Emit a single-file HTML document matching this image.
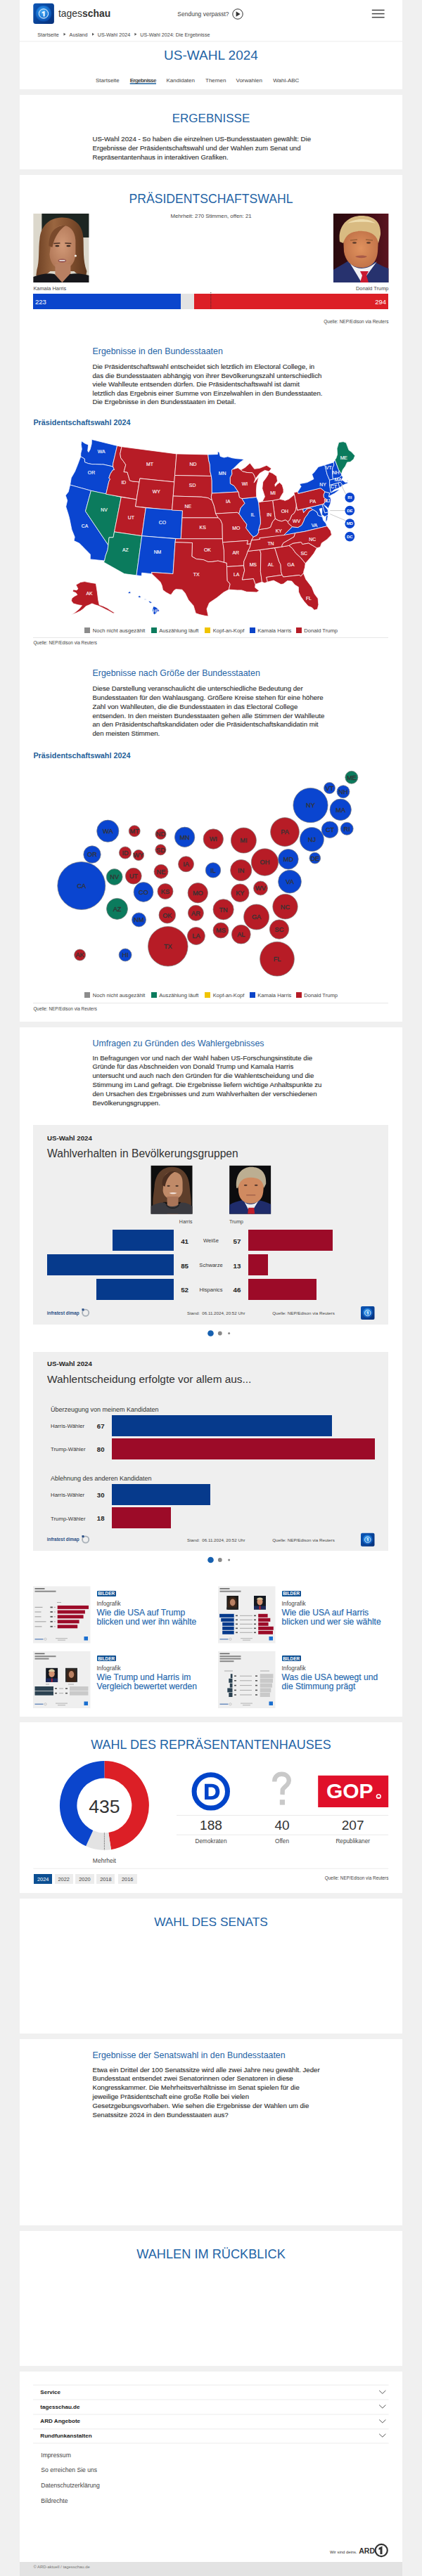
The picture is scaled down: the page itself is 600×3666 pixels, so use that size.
<!DOCTYPE html><html><head><meta charset="utf-8"><style>
html,body{margin:0;padding:0;} body{width:600px;height:3666px;position:relative;overflow:hidden;background:#f0f0f0;font-family:"Liberation Sans", sans-serif;}
.t{position:absolute;white-space:nowrap;} .p{-webkit-text-stroke:0.15px currentColor;} .r{position:absolute;} svg{position:absolute;left:0;top:0;}
</style></head><body>
<div class="r" style="left:27.8px;top:0px;width:544.4px;height:127px;background:#fff;"></div>
<div class="r" style="left:27.8px;top:135px;width:544.4px;height:106px;background:#fff;"></div>
<div class="r" style="left:27.8px;top:249px;width:544.4px;height:1205px;background:#fff;"></div>
<div class="r" style="left:27.8px;top:1462px;width:544.4px;height:981px;background:#fff;"></div>
<div class="r" style="left:27.8px;top:2451px;width:544.4px;height:243px;background:#fff;"></div>
<div class="r" style="left:27.8px;top:2702px;width:544.4px;height:192px;background:#fff;"></div>
<div class="r" style="left:27.8px;top:2902px;width:544.4px;height:265px;background:#fff;"></div>
<div class="r" style="left:27.8px;top:3175px;width:544.4px;height:192px;background:#fff;"></div>
<div class="r" style="left:27.8px;top:3375px;width:544.4px;height:271px;background:#fff;"></div>
<div class="r" style="left:27.8px;top:3646px;width:544.4px;height:20px;background:#e3e3e3;"></div>
<svg width="600" height="130" style="left:0;top:0">
<defs><linearGradient id="lg" x1="0" y1="0" x2="1" y2="1"><stop offset="0" stop-color="#0c57b8"/><stop offset="1" stop-color="#062f78"/></linearGradient>
<radialGradient id="lg2" cx="45%" cy="40%" r="60%"><stop offset="0" stop-color="#4fb0f5"/><stop offset="0.55" stop-color="#1c7ad8"/><stop offset="1" stop-color="#0a4aa8"/></radialGradient></defs>
<rect x="47.3" y="4.8" width="29.6" height="29.3" rx="3.5" fill="url(#lg)"/>
<circle cx="62" cy="19.4" r="11.3" fill="url(#lg2)"/>
<circle cx="62" cy="19.4" r="6.6" fill="none" stroke="#fff" stroke-width="1"/>
<path d="M59.8,17.2 L63.6,15.4 L63.6,23.4 L61.6,23.4 L61.6,18.2 L59.8,18.9Z" fill="#fff"/>
<circle cx="338" cy="20" r="7.2" fill="none" stroke="#333" stroke-width="1"/>
<path d="M335.6,16.2 L341.6,20 L335.6,23.8Z" fill="#333"/>
<rect x="528.8" y="13.7" width="17.8" height="1.5" fill="#444"/>
<rect x="528.8" y="18.8" width="17.8" height="1.5" fill="#444"/>
<rect x="528.8" y="23.9" width="17.8" height="1.5" fill="#444"/>
<rect x="27.4" y="58.5" width="544.8" height="0.8" fill="#e8e8e8"/>
<path d="M90.5,46.8 L93.5,48.8 L90.5,50.8Z M131,46.8 L134,48.8 L131,50.8Z M191.4,46.8 L194.4,48.8 L191.4,50.8Z" fill="#555"/>
<rect x="184.7" y="118.2" width="37.3" height="1.6" fill="#2b6ca3"/>
</svg>
<div class="t" style="left:83px;top:10.89px;font-size:13.9px;line-height:17.38px;color:#333;font-weight:normal;">tages<b>schau</b></div>
<div class="t" style="left:252.3px;top:15.04px;font-size:8.5px;line-height:10.62px;color:#444;font-weight:normal;">Sendung verpasst?</div>
<div class="t" style="left:53.3px;top:44.68px;font-size:7.2px;line-height:9.0px;color:#444;font-weight:normal;">Startseite</div>
<div class="t" style="left:98.6px;top:44.68px;font-size:7.2px;line-height:9.0px;color:#444;font-weight:normal;">Ausland</div>
<div class="t" style="left:138.7px;top:44.68px;font-size:7.2px;line-height:9.0px;color:#444;font-weight:normal;">US-Wahl 2024</div>
<div class="t" style="left:199.3px;top:44.68px;font-size:7.2px;line-height:9.0px;color:#444;font-weight:normal;">US-Wahl 2024: Die Ergebnisse</div>
<div class="t" style="left:0px;width:600px;text-align:center;top:67.36px;font-size:19px;line-height:23.75px;color:#1f64a6;font-weight:normal;">US-WAHL 2024</div>
<div class="t" style="left:136px;top:109.56px;font-size:8px;line-height:10.0px;color:#444;font-weight:normal;">Startseite</div>
<div class="t" style="left:184.7px;top:109.56px;font-size:8px;line-height:10.0px;color:#444;font-weight:bold;letter-spacing:-0.6px;">Ergebnisse</div>
<div class="t" style="left:236.5px;top:109.56px;font-size:8px;line-height:10.0px;color:#444;font-weight:normal;">Kandidaten</div>
<div class="t" style="left:292px;top:109.56px;font-size:8px;line-height:10.0px;color:#444;font-weight:normal;">Themen</div>
<div class="t" style="left:335.5px;top:109.56px;font-size:8px;line-height:10.0px;color:#444;font-weight:normal;">Vorwahlen</div>
<div class="t" style="left:388.3px;top:109.56px;font-size:8px;line-height:10.0px;color:#444;font-weight:normal;">Wahl-ABC</div>
<div class="t" style="left:0px;width:600px;text-align:center;top:157.87px;font-size:17px;line-height:21.25px;color:#1f64a6;font-weight:normal;">ERGEBNISSE</div>
<div class="t p" style="left:131.5px;top:192.11px;font-size:9.65px;line-height:12.8px;color:#333;font-weight:normal;">US-Wahl 2024 - So haben die einzelnen US-Bundesstaaten gewählt: Die<br>Ergebnisse der Präsidentschaftswahl und der Wahlen zum Senat und<br>Repräsentantenhaus in interaktiven Grafiken.</div>
<div class="t" style="left:0px;width:600px;text-align:center;top:271.77px;font-size:17.6px;line-height:22.0px;color:#1f64a6;font-weight:normal;">PRÄSIDENTSCHAFTSWAHL</div>
<div class="t" style="left:0px;width:600px;text-align:center;top:302.89px;font-size:7.8px;line-height:9.75px;color:#444;font-weight:normal;">Mehrheit: 270 Stimmen, offen: 21</div>
<svg width="600" height="460" style="left:0;top:0">
<defs>
<linearGradient id="hh" x1="0" y1="0" x2="1" y2="0"><stop offset="0" stop-color="#6e4124"/><stop offset="0.35" stop-color="#9a6640"/><stop offset="0.7" stop-color="#7d4c2c"/><stop offset="1" stop-color="#5e381f"/></linearGradient>
<radialGradient id="hf" cx="50%" cy="45%" r="60%"><stop offset="0" stop-color="#d29a78"/><stop offset="1" stop-color="#b07656"/></radialGradient>
<radialGradient id="tf" cx="50%" cy="50%" r="60%"><stop offset="0" stop-color="#e0925e"/><stop offset="1" stop-color="#bd6e45"/></radialGradient>
<linearGradient id="tb" x1="0" y1="0" x2="1" y2="0"><stop offset="0" stop-color="#2a0a0e"/><stop offset="0.6" stop-color="#3e0c14"/><stop offset="1" stop-color="#5a1420"/></linearGradient>
</defs>
<g transform="translate(47.4,304)">
<rect width="79" height="98" fill="#dcd8cc"/>
<rect x="12" y="0" width="67" height="34" fill="#1d2622"/>
<path d="M40,5.5 C58,5 70,16 71,34 C72,50 70,66 76,82 L75,88 C68,90 62,86 58,82 L24,82 C18,88 10,91 4,88 L5,80 C9,68 7,50 9,36 C11,16 24,6 40,5.5Z" fill="url(#hh)"/>
<path d="M26,36 C27,22 34,17 42,17 C52,17 59,24 60,38 L60,58 C59,72 51,79 41,79 C31,79 24,71 23,58Z" fill="url(#hf)"/>
<path d="M22,46 C22,26 32,16 46,17 C38,22 30,32 27,48Z" fill="#7a4a2c"/>
<rect x="31" y="72" width="22" height="26" fill="#b88062"/>
<path d="M0,98 L0,90 C10,86 22,84 30,86 L41,98 L52,86 C62,84 72,86 79,88 L79,98Z" fill="#17171b"/>
<path d="M29,42.5 L38,42 M45,42 L54,42.5" stroke="#4a3025" stroke-width="1.3"/>
<ellipse cx="34" cy="46" rx="3" ry="1.3" fill="#3a2a22"/><ellipse cx="50" cy="46" rx="3" ry="1.3" fill="#3a2a22"/>
<ellipse cx="41" cy="67" rx="6" ry="2.8" fill="#9a5a55"/><rect x="37" y="66" width="8" height="1.4" fill="#eee"/>
<circle cx="60" cy="60" r="1.6" fill="#f4f0e8"/>
</g>
<g transform="translate(474,304)">
<rect width="78.4" height="98" fill="url(#tb)"/>
<path d="M0,98 L0,80 C6,76 14,72 20,68 L58,68 C64,72 72,76 78.4,78 L78.4,98Z" fill="#27326e"/>
<path d="M22,68 L40,98 L62,68 C56,74 48,78 40,78 C32,78 26,74 22,68Z" fill="#f2f2f4"/>
<path d="M38,82 L50,82 L47,88 L50,98 L38,98 L41,88Z" fill="#c81a30"/>
<path d="M14,34 C14,26 24,22 40,22 C56,22 64,28 64,36 L63,54 C62,68 54,77 40,77 C27,77 17,68 15,54Z" fill="url(#tf)"/>
<path d="M9,40 C6,18 20,3 40,3 C58,3 68,12 67,30 L64,42 C62,32 56,26 42,25 C28,24 18,28 14,42Z" fill="#d9bb82"/>
<path d="M20,14 C30,6 50,6 60,14 C52,11 30,11 20,14Z" fill="#eedcae"/>
<path d="M24,38 L34,37 M46,37 L56,38" stroke="#9a6038" stroke-width="1.5"/>
<ellipse cx="30" cy="41.5" rx="3" ry="1.2" fill="#5a3a2a"/><ellipse cx="50" cy="41.5" rx="3" ry="1.2" fill="#5a3a2a"/>
<path d="M31,61 C36,59 44,59 48,61 C44,64 36,64 31,61Z" fill="#a85a48"/>
</g>
</svg>
<div class="t" style="left:47.4px;top:405.75px;font-size:7.4px;line-height:9.25px;color:#444;font-weight:normal;">Kamala Harris</div>
<div class="t" style="right:47.60000000000002px;text-align:right;top:405.75px;font-size:7.4px;line-height:9.25px;color:#444;font-weight:normal;">Donald Trump</div>
<div class="r" style="left:47.4px;top:418.3px;width:209.3px;height:21.6px;background:#0b45cc;"></div>
<div class="r" style="left:256.7px;top:418.3px;width:19.5px;height:21.6px;background:#e3e3e3;"></div>
<div class="r" style="left:276.2px;top:418.3px;width:276.2px;height:21.6px;background:#dc1f26;"></div>
<svg width="600" height="460" style="left:0;top:0"><line x1="299.8" y1="416" x2="299.8" y2="440" stroke="#3a2a2a" stroke-width="1" stroke-dasharray="1,1"/></svg>
<div class="t" style="left:50px;top:423.88px;font-size:9.5px;line-height:11.88px;color:#fff;font-weight:normal;">223</div>
<div class="t" style="right:51px;text-align:right;top:423.88px;font-size:9.5px;line-height:11.88px;color:#fff;font-weight:normal;">294</div>
<div class="t" style="right:47.60000000000002px;text-align:right;top:454.35px;font-size:6.5px;line-height:8.12px;color:#444;font-weight:normal;">Quelle: NEP/Edison via Reuters</div>
<div class="t" style="left:131.5px;top:493.08px;font-size:12.4px;line-height:15.5px;color:#1f64a6;font-weight:normal;">Ergebnisse in den Bundesstaaten</div>
<div class="t p" style="left:131.5px;top:516.26px;font-size:9.65px;line-height:12.5px;color:#333;font-weight:normal;">Die Präsidentschaftswahl entscheidet sich letztlich im Electoral College, in<br>das die Bundesstaaten abhängig von ihrer Bevölkerungszahl unterschiedlich<br>viele Wahlleute entsenden dürfen. Die Präsidentschaftswahl ist damit<br>letztlich das Ergebnis einer Summe von Einzelwahlen in den Bundesstaaten.<br>Die Ergebnisse in den Bundesstaaten im Detail.</div>
<div class="t" style="left:47.4px;top:594.53px;font-size:10.8px;line-height:13.5px;color:#1f5f99;font-weight:bold;">Präsidentschaftswahl 2024</div>
<svg width="600" height="3666" style="left:0;top:0"><path d="M116.0,627.7L120.7,631.0L125.6,633.0L124.7,641.6L125.9,643.5L128.2,639.5L130.2,631.7L130.4,625.4L166.7,634.4L160.7,659.7L160.6,664.0L146.7,660.9L144.4,661.0L135.2,660.6L130.9,660.6L125.4,659.6L120.5,657.7L120.2,652.9L114.7,649.8L114.8,645.0L116.3,639.2L115.3,632.6Z" fill="#0a45d0" stroke="#fff" stroke-width="0.75" stroke-linejoin="round"/><path d="M99.6,690.1L129.4,698.3L150.7,703.2L154.8,685.4L156.6,681.7L154.8,680.3L156.8,674.5L160.3,669.0L162.5,668.5L160.6,664.0L146.7,660.9L144.4,661.0L135.2,660.6L130.9,660.6L125.4,659.6L120.5,657.7L120.2,652.9L114.7,649.8L110.3,661.6L106.5,671.0L101.3,680.0Z" fill="#0a45d0" stroke="#fff" stroke-width="0.75" stroke-linejoin="round"/><path d="M99.6,690.1L129.4,698.3L121.5,727.5L153.9,775.7L153.0,782.7L149.9,791.3L148.6,798.0L128.3,795.9L128.4,789.0L120.8,781.2L117.4,777.8L112.7,773.1L105.1,769.6L106.2,764.2L102.0,753.8L100.6,747.1L98.6,737.2L97.0,731.5L93.7,721.1L95.7,712.2L93.2,705.1L97.2,700.0Z" fill="#0a45d0" stroke="#fff" stroke-width="0.75" stroke-linejoin="round"/><path d="M129.4,698.3L172.3,707.4L161.0,764.8L155.1,764.9L153.9,775.7L121.5,727.5Z" fill="#0b7b5d" stroke="#fff" stroke-width="0.75" stroke-linejoin="round"/><path d="M166.6,634.4L173.0,635.7L170.8,645.7L171.7,651.6L175.6,656.7L178.8,661.4L176.1,671.6L181.0,672.0L184.4,683.8L188.5,685.0L198.1,685.9L194.0,710.8L150.7,703.2L154.8,685.4L156.6,681.7L154.8,680.3L156.8,674.5L160.3,669.0L162.5,668.5L160.6,664.0L160.7,659.7Z" fill="#b71c26" stroke="#fff" stroke-width="0.75" stroke-linejoin="round"/><path d="M173.0,635.7L251.0,645.9L247.8,685.9L198.9,680.9L198.1,685.9L188.5,685.0L184.4,683.8L181.0,672.0L176.1,671.6L178.8,661.4L175.6,656.7L171.7,651.6L170.8,645.7Z" fill="#b71c26" stroke="#fff" stroke-width="0.75" stroke-linejoin="round"/><path d="M198.9,680.9L247.8,685.9L244.6,726.1L192.4,720.8Z" fill="#b71c26" stroke="#fff" stroke-width="0.75" stroke-linejoin="round"/><path d="M172.3,707.4L194.0,710.8L192.4,720.8L207.3,722.7L201.7,762.7L162.5,756.9Z" fill="#b71c26" stroke="#fff" stroke-width="0.75" stroke-linejoin="round"/><path d="M207.3,722.7L259.5,726.8L257.2,767.0L201.7,762.7Z" fill="#0a45d0" stroke="#fff" stroke-width="0.75" stroke-linejoin="round"/><path d="M162.5,756.9L201.7,762.7L194.0,818.8L176.8,816.6L147.4,800.0L148.6,798.0L149.9,791.3L153.0,782.7L153.9,775.7L155.1,764.9L161.0,764.8Z" fill="#0b7b5d" stroke="#fff" stroke-width="0.75" stroke-linejoin="round"/><path d="M201.7,762.7L249.7,766.7L249.0,771.7L246.0,816.6L215.5,814.4L216.3,816.7L201.7,815.2L201.2,819.7L194.0,818.8Z" fill="#0a45d0" stroke="#fff" stroke-width="0.75" stroke-linejoin="round"/><path d="M251.0,645.9L295.8,646.9L296.6,654.9L298.3,660.9L298.7,670.9L300.4,677.5L248.5,676.5Z" fill="#b71c26" stroke="#fff" stroke-width="0.75" stroke-linejoin="round"/><path d="M248.5,676.5L300.4,677.5L301.2,683.9L301.3,702.0L300.3,707.0L301.4,712.1L295.9,708.6L286.5,707.2L246.2,706.0Z" fill="#b71c26" stroke="#fff" stroke-width="0.75" stroke-linejoin="round"/><path d="M246.2,706.0L286.5,707.2L295.9,708.6L301.4,712.1L304.1,719.0L305.6,725.0L306.7,731.0L310.3,736.9L259.0,736.9L259.5,726.8L244.6,726.1Z" fill="#b71c26" stroke="#fff" stroke-width="0.75" stroke-linejoin="round"/><path d="M259.0,736.9L310.3,736.9L313.5,739.8L316.0,745.8L316.4,766.8L257.2,767.0Z" fill="#b71c26" stroke="#fff" stroke-width="0.75" stroke-linejoin="round"/><path d="M249.7,766.7L316.4,766.8L318.4,782.8L318.6,800.4L310.0,798.1L301.7,799.4L295.8,799.5L289.2,796.6L279.3,795.6L272.8,791.9L273.4,772.5L249.0,771.7Z" fill="#b71c26" stroke="#fff" stroke-width="0.75" stroke-linejoin="round"/><path d="M249.0,771.7L273.4,772.5L272.8,791.9L279.3,795.6L289.2,796.6L295.8,799.5L301.7,799.4L310.0,798.1L318.6,800.4L322.3,801.1L322.5,806.5L323.2,826.4L327.2,831.1L325.4,839.1L317.9,843.0L308.3,850.7L297.6,857.9L294.0,866.7L296.2,877.0L292.1,876.5L283.8,874.6L278.3,872.7L275.0,861.9L268.0,853.9L263.1,844.0L258.9,839.2L250.1,838.6L247.3,840.4L243.4,846.2L241.6,846.1L235.7,842.8L231.5,839.5L230.3,833.5L228.1,828.4L220.2,820.8L216.2,817.0L215.5,814.4L246.0,816.6Z" fill="#b71c26" stroke="#fff" stroke-width="0.75" stroke-linejoin="round"/><path d="M295.8,646.9L309.4,646.5L309.4,642.7L311.7,643.4L313.2,649.4L318.5,651.1L323.8,649.8L330.5,651.8L337.3,652.8L344.0,653.2L346.8,653.9L340.4,658.5L334.7,664.0L330.8,667.9L329.5,668.9L329.9,674.7L327.3,679.7L327.4,688.2L332.9,691.4L338.8,700.0L301.3,702.0L301.2,683.9L300.4,677.5L298.7,670.9L298.3,660.9L296.6,654.9Z" fill="#0a45d0" stroke="#fff" stroke-width="0.75" stroke-linejoin="round"/><path d="M301.3,702.0L339.0,699.9L340.5,707.9L344.0,709.6L348.1,716.3L342.2,722.9L339.8,731.1L337.2,729.3L306.7,731.0L305.6,725.0L304.1,719.0L301.4,712.1L300.3,707.0Z" fill="#b71c26" stroke="#fff" stroke-width="0.75" stroke-linejoin="round"/><path d="M306.7,731.0L337.2,729.3L339.8,731.1L345.8,739.7L350.9,746.3L349.8,751.4L356.9,760.8L360.4,764.0L357.6,768.8L356.4,773.9L351.0,774.5L352.4,769.3L316.6,771.8L316.4,766.8L316.0,745.8L313.5,739.8L310.3,736.9Z" fill="#b71c26" stroke="#fff" stroke-width="0.75" stroke-linejoin="round"/><path d="M316.6,771.8L352.4,769.3L351.0,774.5L356.4,773.9L355.2,779.1L352.4,784.4L350.4,790.6L346.8,798.9L346.6,804.9L322.5,806.5L322.3,801.1L318.6,800.4L318.4,782.8Z" fill="#b71c26" stroke="#fff" stroke-width="0.75" stroke-linejoin="round"/><path d="M322.5,806.5L346.6,804.9L347.7,811.8L344.3,825.0L360.4,823.5L363.1,831.4L362.7,836.2L368.4,840.6L365.0,842.9L357.9,842.6L350.7,842.3L343.5,839.9L337.3,839.9L325.4,839.1L327.2,831.1L323.2,826.4Z" fill="#b71c26" stroke="#fff" stroke-width="0.75" stroke-linejoin="round"/><path d="M344.3,825.0L347.7,811.8L346.6,804.9L346.8,798.9L350.4,790.6L352.4,784.4L369.5,782.5L370.9,787.4L370.4,813.5L372.5,828.2L363.1,831.4L360.4,823.5Z" fill="#b71c26" stroke="#fff" stroke-width="0.75" stroke-linejoin="round"/><path d="M369.5,782.5L390.7,779.7L396.7,799.0L399.0,803.6L399.6,813.6L401.1,818.3L378.8,821.5L380.4,828.2L376.2,829.7L372.5,828.2L370.4,813.5L370.9,787.4Z" fill="#b71c26" stroke="#fff" stroke-width="0.75" stroke-linejoin="round"/><path d="M390.7,779.7L411.0,776.4L415.9,780.6L420.3,786.9L427.5,793.6L434.2,801.8L433.5,807.5L431.9,812.9L431.5,815.8L427.5,820.2L425.8,818.4L402.7,821.1L401.1,818.3L399.6,813.6L399.0,803.6L396.7,799.0Z" fill="#b71c26" stroke="#fff" stroke-width="0.75" stroke-linejoin="round"/><path d="M378.8,821.5L401.1,818.3L402.7,821.1L425.8,818.4L427.5,820.2L431.5,815.8L434.9,824.4L443.4,835.7L447.0,844.9L452.1,851.8L452.9,860.6L451.3,866.9L446.9,868.3L443.3,864.6L438.2,862.6L432.3,855.8L427.4,848.8L424.5,842.3L424.3,835.4L419.2,832.3L414.8,827.1L408.5,826.6L402.9,831.0L399.4,831.6L389.0,826.1L380.4,828.2Z" fill="#b71c26" stroke="#fff" stroke-width="0.75" stroke-linejoin="round"/><path d="M352.4,784.4L355.2,779.1L356.4,773.9L357.6,768.8L369.6,767.4L368.8,765.7L419.8,758.5L418.0,764.0L410.5,768.4L402.9,772.7L401.0,776.1L401.1,778.1L369.5,782.5Z" fill="#b71c26" stroke="#fff" stroke-width="0.75" stroke-linejoin="round"/><path d="M357.6,768.8L369.6,767.4L368.8,765.7L403.6,761.5L415.7,749.7L409.7,744.4L409.3,742.2L405.8,739.8L400.5,741.7L395.6,740.5L391.2,738.1L387.3,742.8L384.4,750.3L379.8,752.0L375.9,752.5L371.2,753.1L367.4,754.6L367.7,757.6L365.0,761.9L360.4,764.0Z" fill="#b71c26" stroke="#fff" stroke-width="0.75" stroke-linejoin="round"/><path d="M403.6,761.5L419.8,758.5L432.9,756.4L465.0,748.7L463.2,744.6L459.6,740.3L458.4,735.5L452.3,733.4L450.9,729.1L446.6,726.0L444.6,725.3L439.8,727.7L436.9,732.4L433.1,737.4L431.6,741.8L428.7,747.5L423.7,750.6L415.7,749.7Z" fill="#0a45d0" stroke="#fff" stroke-width="0.75" stroke-linejoin="round"/><path d="M466.4,733.1L463.4,734.2L462.9,743.6L465.3,739.9Z" fill="#0a45d0" stroke="#fff" stroke-width="0.75" stroke-linejoin="round"/><path d="M421.0,717.0L422.8,726.1L430.6,724.4L431.6,729.5L434.7,726.2L435.9,724.4L439.2,723.2L441.9,723.0L444.6,725.3L439.8,727.7L436.9,732.4L433.1,737.4L431.6,741.8L428.7,747.5L423.7,750.6L415.7,749.7L409.7,744.4L409.3,742.2L412.1,739.6L414.8,733.0L418.2,730.3L420.5,725.7L421.1,720.5Z" fill="#b71c26" stroke="#fff" stroke-width="0.75" stroke-linejoin="round"/><path d="M430.6,724.4L458.1,717.7L461.9,729.9L466.8,728.6L466.4,733.1L461.6,735.2L457.7,732.5L457.8,723.2L454.1,724.2L456.7,731.8L458.4,735.5L452.3,733.4L450.9,729.1L446.6,726.0L444.6,725.3L441.9,723.0L439.2,723.2L435.9,724.4L434.7,726.2L431.6,729.5Z" fill="#0a45d0" stroke="#fff" stroke-width="0.75" stroke-linejoin="round"/><path d="M458.1,717.7L460.8,716.2L460.2,718.4L465.9,725.2L466.8,728.6L461.9,729.9Z" fill="#0a45d0" stroke="#fff" stroke-width="0.75" stroke-linejoin="round"/><path d="M462.0,699.8L468.7,701.6L467.5,707.1L469.6,707.5L470.6,711.4L469.7,716.9L466.7,723.6L464.6,721.4L460.2,718.4L460.8,716.2L465.1,711.4L460.3,708.0L460.0,704.0Z" fill="#0a45d0" stroke="#fff" stroke-width="0.75" stroke-linejoin="round"/><path d="M417.9,700.9L423.4,699.8L423.9,702.4L455.7,694.7L458.0,696.2L462.0,699.8L460.0,704.0L460.3,708.0L465.1,711.4L460.8,716.2L458.1,717.7L422.8,726.1Z" fill="#b71c26" stroke="#fff" stroke-width="0.75" stroke-linejoin="round"/><path d="M423.9,702.4L423.4,699.8L428.2,692.2L426.8,690.5L426.0,688.6L436.7,686.6L446.0,681.7L443.6,675.1L446.6,672.2L452.6,664.4L461.8,661.8L465.2,675.4L468.6,683.3L468.7,690.5L470.4,701.0L480.0,697.1L483.0,696.7L475.9,702.0L469.0,705.6L467.5,707.1L468.7,701.6L462.0,699.8L458.0,696.2L455.7,694.7Z" fill="#0a45d0" stroke="#fff" stroke-width="0.75" stroke-linejoin="round"/><path d="M461.8,661.8L474.2,657.9L474.8,662.0L472.9,665.7L472.6,672.1L472.9,677.3L473.5,682.0L468.6,683.3L465.2,675.4Z" fill="#0a45d0" stroke="#fff" stroke-width="0.75" stroke-linejoin="round"/><path d="M474.2,657.9L476.2,654.2L481.4,668.3L484.1,672.7L485.4,674.4L485.4,676.8L482.4,679.6L473.5,682.0L472.9,677.3L472.6,672.1L472.9,665.7L474.8,662.0Z" fill="#0a45d0" stroke="#fff" stroke-width="0.75" stroke-linejoin="round"/><path d="M476.2,654.2L477.7,652.4L479.6,646.8L479.1,638.5L481.7,629.6L488.0,628.6L492.1,630.1L496.0,640.6L499.7,643.0L504.7,648.6L502.7,653.6L498.0,657.4L493.6,657.9L491.0,663.5L487.3,668.5L485.4,674.4L484.1,672.7L481.4,668.3Z" fill="#0b7b5d" stroke="#fff" stroke-width="0.75" stroke-linejoin="round"/><path d="M468.6,683.3L473.5,682.0L482.4,679.6L485.4,676.8L487.6,678.9L485.7,682.7L489.1,684.8L490.7,686.4L494.6,686.1L493.1,682.9L494.7,684.0L494.3,687.8L490.8,689.0L487.2,690.7L483.9,686.3L480.9,687.2L468.7,690.5Z" fill="#0a45d0" stroke="#fff" stroke-width="0.75" stroke-linejoin="round"/><path d="M480.9,687.2L483.9,686.3L487.2,690.7L482.6,694.0Z" fill="#0a45d0" stroke="#fff" stroke-width="0.75" stroke-linejoin="round"/><path d="M468.7,690.5L480.9,687.2L482.6,694.0L475.2,697.0L470.4,701.0Z" fill="#0a45d0" stroke="#fff" stroke-width="0.75" stroke-linejoin="round"/><path d="M401.1,778.1L401.0,776.1L402.9,772.7L410.5,768.4L418.0,764.0L419.8,758.5L432.9,756.4L465.0,748.7L470.0,755.2L471.5,761.0L464.7,767.9L457.4,772.8L455.3,778.4L450.5,780.0L438.8,773.0L429.9,774.6L428.6,772.1L427.7,771.7L416.3,773.4L411.0,776.4Z" fill="#b71c26" stroke="#fff" stroke-width="0.75" stroke-linejoin="round"/><path d="M411.0,776.4L416.3,773.4L427.7,771.7L428.6,772.1L429.9,774.6L438.8,773.0L450.5,780.0L446.1,787.7L441.3,793.8L434.2,801.8L427.5,793.6L420.3,786.9L415.9,780.6Z" fill="#b71c26" stroke="#fff" stroke-width="0.75" stroke-linejoin="round"/><path d="M418.4,703.8L410.7,710.3L405.0,712.4L403.4,711.6L397.5,710.3L387.6,712.3L391.2,738.1L395.6,740.5L400.5,741.7L405.8,739.8L409.3,742.2L412.1,739.6L414.8,733.0L418.2,730.3L420.5,725.7L421.1,720.5L421.0,717.0Z" fill="#b71c26" stroke="#fff" stroke-width="0.75" stroke-linejoin="round"/><path d="M387.6,712.3L372.9,713.8L367.5,715.1L370.2,738.6L370.3,745.1L367.4,754.6L371.2,753.1L375.9,752.5L379.8,752.0L384.4,750.3L387.3,742.8L391.2,738.1Z" fill="#b71c26" stroke="#fff" stroke-width="0.75" stroke-linejoin="round"/><path d="M344.0,709.6L364.7,707.4L366.7,712.2L367.5,715.1L370.2,738.6L370.3,745.1L367.4,754.6L367.7,757.6L365.0,761.9L360.4,764.0L356.9,760.8L349.8,751.4L350.9,746.3L345.8,739.7L339.8,731.1L342.2,722.9L348.1,716.3Z" fill="#0a45d0" stroke="#fff" stroke-width="0.75" stroke-linejoin="round"/><path d="M344.0,709.6L340.5,707.9L339.0,699.9L338.8,700.0L332.9,691.4L327.4,688.2L327.3,679.7L329.9,674.7L329.5,668.9L330.8,667.9L338.2,665.8L342.5,668.7L344.8,670.7L351.9,672.5L358.8,672.7L360.4,674.5L362.2,678.3L363.3,681.2L361.1,687.1L364.2,683.1L367.9,678.6L365.0,690.1L364.4,698.3L364.7,707.4Z" fill="#b71c26" stroke="#fff" stroke-width="0.75" stroke-linejoin="round"/><path d="M387.6,712.3L397.5,710.3L399.5,706.2L403.0,700.5L403.0,696.4L401.3,690.6L397.7,686.6L394.4,688.8L391.3,692.3L390.9,689.4L394.5,684.7L393.4,677.7L387.7,673.6L382.5,671.4L381.0,675.7L378.1,680.2L373.8,685.9L372.8,695.2L376.5,706.8L372.9,713.8Z" fill="#b71c26" stroke="#fff" stroke-width="0.75" stroke-linejoin="round"/><path d="M342.5,668.7L348.4,665.3L355.4,659.0L361.7,667.3L369.2,666.3L379.1,662.3L382.9,664.8L386.0,666.8L382.4,670.9L376.6,669.3L369.4,673.4L363.3,681.2L362.2,678.3L360.4,674.5L358.8,672.7L351.9,672.5L344.8,670.7Z" fill="#b71c26" stroke="#fff" stroke-width="0.75" stroke-linejoin="round"/><path d="M108.0,832.3L114.6,828.5L120.3,827.6L127.9,829.1L136.4,830.4L138.3,842.7L139.7,854.1L141.2,860.8L146.9,862.7L152.6,865.5L158.2,869.3L163.0,872.1L161.1,873.1L155.4,869.7L150.7,867.4L145.0,864.5L139.7,862.1L135.5,860.8L130.8,858.9L127.0,860.8L122.2,862.7L118.4,866.4L114.6,869.3L109.0,872.1L101.4,875.0L107.1,871.2L112.7,866.4L116.5,861.7L110.9,860.8L104.2,858.9L101.4,855.1L102.3,851.3L106.1,848.4L109.9,846.5L108.0,843.7L103.3,841.8L104.2,839.0L109.0,839.9L110.9,838.0Z" fill="#b71c26" stroke="#fff" stroke-width="0.75" stroke-linejoin="round"/><path d="M218.4,862.7L221.9,864.2L224.8,867.0L226.9,869.6L224.1,870.6L221.9,872.7L219.4,874.8L217.7,872.3L216.5,868.4L217.4,864.9ZM211.3,854.9L214.1,856.1L216.3,857.5L214.1,858.5L211.7,857.0ZM196.3,848.5L198.5,847.8L200.6,849.7L198.5,850.6L196.6,849.9ZM182.1,843.3L184.2,841.8L186.1,842.8L185.0,844.7L182.8,844.4ZM205.2,852.5L208.0,852.8L207.7,853.5L205.3,853.3Z" fill="#0a45d0" stroke="#fff" stroke-width="0.75" stroke-linejoin="round"/><path d="M484.7,689.3 L491.5,703" stroke="#bbb" stroke-width="0.8" fill="none"/><path d="M469.3,726.6 L490.5,726.6" stroke="#bbb" stroke-width="0.8" fill="none"/><path d="M469.3,731.5 L491,740.7" stroke="#bbb" stroke-width="0.8" fill="none"/><circle cx="497.3" cy="708" r="6.9" fill="#0a45d0"/><text x="497.3" y="710.2" font-size="6" fill="#fff" font-weight="bold" text-anchor="middle" font-family="Liberation Sans">RI</text><circle cx="497.3" cy="726.6" r="6.9" fill="#0a45d0"/><text x="497.3" y="728.8000000000001" font-size="6" fill="#fff" font-weight="bold" text-anchor="middle" font-family="Liberation Sans">DE</text><circle cx="497.3" cy="745.2" r="6.9" fill="#0a45d0"/><text x="497.3" y="747.4000000000001" font-size="6" fill="#fff" font-weight="bold" text-anchor="middle" font-family="Liberation Sans">MD</text><circle cx="497.3" cy="763.6" r="6.9" fill="#0a45d0"/><text x="497.3" y="765.8000000000001" font-size="6" fill="#fff" font-weight="bold" text-anchor="middle" font-family="Liberation Sans">DC</text><text x="144.2" y="645.3" font-size="6.9" fill="#fff" stroke="#fff" stroke-width="0.12" text-anchor="middle" font-family="Liberation Sans">WA</text><text x="130" y="674.7" font-size="6.9" fill="#fff" stroke="#fff" stroke-width="0.12" text-anchor="middle" font-family="Liberation Sans">OR</text><text x="120.5" y="750.5" font-size="6.9" fill="#fff" stroke="#fff" stroke-width="0.12" text-anchor="middle" font-family="Liberation Sans">CA</text><text x="148" y="727.8" font-size="6.9" fill="#fff" stroke="#fff" stroke-width="0.12" text-anchor="middle" font-family="Liberation Sans">NV</text><text x="175.9" y="688.9" font-size="6.9" fill="#fff" stroke="#fff" stroke-width="0.12" text-anchor="middle" font-family="Liberation Sans">ID</text><text x="212.9" y="662.9" font-size="6.9" fill="#fff" stroke="#fff" stroke-width="0.12" text-anchor="middle" font-family="Liberation Sans">MT</text><text x="222.4" y="702.2" font-size="6.9" fill="#fff" stroke="#fff" stroke-width="0.12" text-anchor="middle" font-family="Liberation Sans">WY</text><text x="186.3" y="739.1" font-size="6.9" fill="#fff" stroke="#fff" stroke-width="0.12" text-anchor="middle" font-family="Liberation Sans">UT</text><text x="231" y="745.9" font-size="6.9" fill="#fff" stroke="#fff" stroke-width="0.12" text-anchor="middle" font-family="Liberation Sans">CO</text><text x="178.3" y="785.2" font-size="6.9" fill="#fff" stroke="#fff" stroke-width="0.12" text-anchor="middle" font-family="Liberation Sans">AZ</text><text x="224" y="787.6" font-size="6.9" fill="#fff" stroke="#fff" stroke-width="0.12" text-anchor="middle" font-family="Liberation Sans">NM</text><text x="274.5" y="663.4" font-size="6.9" fill="#fff" stroke="#fff" stroke-width="0.12" text-anchor="middle" font-family="Liberation Sans">ND</text><text x="273.6" y="693.2" font-size="6.9" fill="#fff" stroke="#fff" stroke-width="0.12" text-anchor="middle" font-family="Liberation Sans">SD</text><text x="267.4" y="722.6" font-size="6.9" fill="#fff" stroke="#fff" stroke-width="0.12" text-anchor="middle" font-family="Liberation Sans">NE</text><text x="288.2" y="752.6" font-size="6.9" fill="#fff" stroke="#fff" stroke-width="0.12" text-anchor="middle" font-family="Liberation Sans">KS</text><text x="294.9" y="785.2" font-size="6.9" fill="#fff" stroke="#fff" stroke-width="0.12" text-anchor="middle" font-family="Liberation Sans">OK</text><text x="279.2" y="819.8" font-size="6.9" fill="#fff" stroke="#fff" stroke-width="0.12" text-anchor="middle" font-family="Liberation Sans">TX</text><text x="316.2" y="676.1" font-size="6.9" fill="#fff" stroke="#fff" stroke-width="0.12" text-anchor="middle" font-family="Liberation Sans">MN</text><text x="324.3" y="715.5" font-size="6.9" fill="#fff" stroke="#fff" stroke-width="0.12" text-anchor="middle" font-family="Liberation Sans">IA</text><text x="335.7" y="753.9" font-size="6.9" fill="#fff" stroke="#fff" stroke-width="0.12" text-anchor="middle" font-family="Liberation Sans">MO</text><text x="335.2" y="789.0" font-size="6.9" fill="#fff" stroke="#fff" stroke-width="0.12" text-anchor="middle" font-family="Liberation Sans">AR</text><text x="336.1" y="819.8" font-size="6.9" fill="#fff" stroke="#fff" stroke-width="0.12" text-anchor="middle" font-family="Liberation Sans">LA</text><text x="348" y="690.6" font-size="6.9" fill="#fff" stroke="#fff" stroke-width="0.12" text-anchor="middle" font-family="Liberation Sans">WI</text><text x="359.4" y="734.9" font-size="6.9" fill="#fff" stroke="#fff" stroke-width="0.12" text-anchor="middle" font-family="Liberation Sans">IL</text><text x="388.2" y="704.4" font-size="6.9" fill="#fff" stroke="#fff" stroke-width="0.12" text-anchor="middle" font-family="Liberation Sans">MI</text><text x="382.6" y="734.9" font-size="6.9" fill="#fff" stroke="#fff" stroke-width="0.12" text-anchor="middle" font-family="Liberation Sans">IN</text><text x="404.8" y="729.9" font-size="6.9" fill="#fff" stroke="#fff" stroke-width="0.12" text-anchor="middle" font-family="Liberation Sans">OH</text><text x="396.3" y="757.7" font-size="6.9" fill="#fff" stroke="#fff" stroke-width="0.12" text-anchor="middle" font-family="Liberation Sans">KY</text><text x="385" y="775.8" font-size="6.9" fill="#fff" stroke="#fff" stroke-width="0.12" text-anchor="middle" font-family="Liberation Sans">TN</text><text x="359.8" y="805.6" font-size="6.9" fill="#fff" stroke="#fff" stroke-width="0.12" text-anchor="middle" font-family="Liberation Sans">MS</text><text x="385" y="805.6" font-size="6.9" fill="#fff" stroke="#fff" stroke-width="0.12" text-anchor="middle" font-family="Liberation Sans">AL</text><text x="413.5" y="805.7" font-size="6.9" fill="#fff" stroke="#fff" stroke-width="0.12" text-anchor="middle" font-family="Liberation Sans">GA</text><text x="438.9" y="854.3" font-size="6.9" fill="#fff" stroke="#fff" stroke-width="0.12" text-anchor="middle" font-family="Liberation Sans">FL</text><text x="432.3" y="789.5" font-size="6.9" fill="#fff" stroke="#fff" stroke-width="0.12" text-anchor="middle" font-family="Liberation Sans">SC</text><text x="444.2" y="769.5" font-size="6.9" fill="#fff" stroke="#fff" stroke-width="0.12" text-anchor="middle" font-family="Liberation Sans">NC</text><text x="447" y="749.6" font-size="6.9" fill="#fff" stroke="#fff" stroke-width="0.12" text-anchor="middle" font-family="Liberation Sans">VA</text><text x="421.6" y="743.8" font-size="6.9" fill="#fff" stroke="#fff" stroke-width="0.12" text-anchor="middle" font-family="Liberation Sans">WV</text><text x="444.7" y="715.9" font-size="6.9" fill="#fff" stroke="#fff" stroke-width="0.12" text-anchor="middle" font-family="Liberation Sans">PA</text><text x="459" y="692.1" font-size="6.9" fill="#fff" stroke="#fff" stroke-width="0.12" text-anchor="middle" font-family="Liberation Sans">NY</text><text x="467.4" y="668.1" font-size="6.9" fill="#fff" stroke="#fff" stroke-width="0.12" text-anchor="middle" font-family="Liberation Sans">VT</text><text x="477.4" y="675.1" font-size="6.9" fill="#fff" stroke="#fff" stroke-width="0.12" text-anchor="middle" font-family="Liberation Sans">NH</text><text x="480.7" y="685.1" font-size="6.9" fill="#fff" stroke="#fff" stroke-width="0.12" text-anchor="middle" font-family="Liberation Sans">MA</text><text x="474.5" y="694.6" font-size="6.9" fill="#fff" stroke="#fff" stroke-width="0.12" text-anchor="middle" font-family="Liberation Sans">CT</text><text x="465" y="715.4" font-size="6.9" fill="#fff" stroke="#fff" stroke-width="0.12" text-anchor="middle" font-family="Liberation Sans">NJ</text><text x="488.8" y="653.8" font-size="6.9" fill="#fff" stroke="#fff" stroke-width="0.12" text-anchor="middle" font-family="Liberation Sans">ME</text><text x="127" y="847.4" font-size="6.9" fill="#fff" stroke="#fff" stroke-width="0.12" text-anchor="middle" font-family="Liberation Sans">AK</text><text x="220.8" y="872.2" font-size="6.9" fill="#fff" stroke="#fff" stroke-width="0.12" text-anchor="middle" font-family="Liberation Sans">HI</text></svg>
<div class="r" style="left:120.4px;top:893.3px;width:7.5px;height:7.5px;background:#8c8c8c;"></div>
<div class="t" style="left:131.70000000000002px;top:892.62px;font-size:7.6px;line-height:9.5px;color:#444;font-weight:normal;">Noch nicht ausgezählt</div>
<div class="r" style="left:215px;top:893.3px;width:7.5px;height:7.5px;background:#0b7b5d;"></div>
<div class="t" style="left:226.3px;top:892.62px;font-size:7.6px;line-height:9.5px;color:#444;font-weight:normal;">Auszählung läuft</div>
<div class="r" style="left:291.4px;top:893.3px;width:7.5px;height:7.5px;background:#f0c400;"></div>
<div class="t" style="left:302.7px;top:892.62px;font-size:7.6px;line-height:9.5px;color:#444;font-weight:normal;">Kopf-an-Kopf</div>
<div class="r" style="left:355px;top:893.3px;width:7.5px;height:7.5px;background:#0b44c8;"></div>
<div class="t" style="left:366.3px;top:892.62px;font-size:7.6px;line-height:9.5px;color:#444;font-weight:normal;">Kamala Harris</div>
<div class="r" style="left:421px;top:893.3px;width:7.5px;height:7.5px;background:#b51c27;"></div>
<div class="t" style="left:432.3px;top:892.62px;font-size:7.6px;line-height:9.5px;color:#444;font-weight:normal;">Donald Trump</div>
<div class="r" style="left:47.4px;top:906.5px;width:505px;height:0.7px;background:#e6e6e6;"></div>
<div class="t" style="left:47.4px;top:911.41px;font-size:6.4px;line-height:8.0px;color:#444;font-weight:normal;">Quelle: NEP/Edison via Reuters</div>
<div class="t" style="left:131.5px;top:951.08px;font-size:12.4px;line-height:15.5px;color:#1f64a6;font-weight:normal;">Ergebnisse nach Größe der Bundesstaaten</div>
<div class="t p" style="left:131.5px;top:974.21px;font-size:9.65px;line-height:12.8px;color:#333;font-weight:normal;">Diese Darstellung veranschaulicht die unterschiedliche Bedeutung der<br>Bundesstaaten für den Wahlausgang. Größere Kreise stehen für eine höhere<br>Zahl von Wahlleuten, die die Bundesstaaten in das Electoral College<br>entsenden. In den meisten Bundesstaaten gehen alle Stimmen der Wahlleute<br>an den Präsidentschaftskandidaten oder die Präsidentschaftskandidatin mit<br>den meisten Stimmen.</div>
<div class="t" style="left:47.4px;top:1068.53px;font-size:10.8px;line-height:13.5px;color:#1f5f99;font-weight:bold;">Präsidentschaftswahl 2024</div>
<svg width="600" height="3666" style="left:0;top:0"><circle cx="153.3" cy="1182.7" r="15.6" fill="#0a45d0" stroke="#7a7a7a" stroke-width="0.7"/><text x="153.3" y="1186.0" font-size="9.2" fill="#333" stroke="#333" stroke-width="0.3" text-anchor="middle" font-family="Liberation Sans">WA</text><circle cx="191.2" cy="1182.7" r="8.0" fill="#b71c26" stroke="#7a7a7a" stroke-width="0.7"/><text x="191.2" y="1186.0" font-size="9.2" fill="#333" stroke="#333" stroke-width="0.3" text-anchor="middle" font-family="Liberation Sans">MT</text><circle cx="228.5" cy="1187" r="7.6" fill="#b71c26" stroke="#7a7a7a" stroke-width="0.7"/><text x="228.5" y="1190.3" font-size="9.2" fill="#333" stroke="#333" stroke-width="0.3" text-anchor="middle" font-family="Liberation Sans">ND</text><circle cx="262.6" cy="1191.3" r="14.2" fill="#0a45d0" stroke="#7a7a7a" stroke-width="0.7"/><text x="262.6" y="1194.6" font-size="9.2" fill="#333" stroke="#333" stroke-width="0.3" text-anchor="middle" font-family="Liberation Sans">MN</text><circle cx="303.3" cy="1194" r="14.2" fill="#b71c26" stroke="#7a7a7a" stroke-width="0.7"/><text x="303.3" y="1197.3" font-size="9.2" fill="#333" stroke="#333" stroke-width="0.3" text-anchor="middle" font-family="Liberation Sans">WI</text><circle cx="346.4" cy="1196" r="18" fill="#b71c26" stroke="#7a7a7a" stroke-width="0.7"/><text x="346.4" y="1199.3" font-size="9.2" fill="#333" stroke="#333" stroke-width="0.3" text-anchor="middle" font-family="Liberation Sans">MI</text><circle cx="131" cy="1216" r="12.2" fill="#0a45d0" stroke="#7a7a7a" stroke-width="0.7"/><text x="131" y="1219.3" font-size="9.2" fill="#333" stroke="#333" stroke-width="0.3" text-anchor="middle" font-family="Liberation Sans">OR</text><circle cx="178" cy="1213.5" r="8.6" fill="#b71c26" stroke="#7a7a7a" stroke-width="0.7"/><text x="178" y="1216.8" font-size="9.2" fill="#333" stroke="#333" stroke-width="0.3" text-anchor="middle" font-family="Liberation Sans">ID</text><circle cx="197" cy="1217" r="7.6" fill="#b71c26" stroke="#7a7a7a" stroke-width="0.7"/><text x="197" y="1220.3" font-size="9.2" fill="#333" stroke="#333" stroke-width="0.3" text-anchor="middle" font-family="Liberation Sans">WY</text><circle cx="228.4" cy="1209.3" r="7.6" fill="#b71c26" stroke="#7a7a7a" stroke-width="0.7"/><text x="228.4" y="1212.6" font-size="9.2" fill="#333" stroke="#333" stroke-width="0.3" text-anchor="middle" font-family="Liberation Sans">SD</text><circle cx="115.8" cy="1260.5" r="34" fill="#0a45d0" stroke="#7a7a7a" stroke-width="0.7"/><text x="115.8" y="1263.8" font-size="9.2" fill="#333" stroke="#333" stroke-width="0.3" text-anchor="middle" font-family="Liberation Sans">CA</text><circle cx="162.7" cy="1248" r="11.4" fill="#0b7b5d" stroke="#7a7a7a" stroke-width="0.7"/><text x="162.7" y="1251.3" font-size="9.2" fill="#333" stroke="#333" stroke-width="0.3" text-anchor="middle" font-family="Liberation Sans">NV</text><circle cx="189.8" cy="1246.7" r="11.4" fill="#b71c26" stroke="#7a7a7a" stroke-width="0.7"/><text x="189.8" y="1250.0" font-size="9.2" fill="#333" stroke="#333" stroke-width="0.3" text-anchor="middle" font-family="Liberation Sans">UT</text><circle cx="229" cy="1240.3" r="10" fill="#b71c26" stroke="#7a7a7a" stroke-width="0.7"/><text x="229" y="1243.6" font-size="9.2" fill="#333" stroke="#333" stroke-width="0.3" text-anchor="middle" font-family="Liberation Sans">NE</text><circle cx="264.5" cy="1229.7" r="11" fill="#b71c26" stroke="#7a7a7a" stroke-width="0.7"/><text x="264.5" y="1233.0" font-size="9.2" fill="#333" stroke="#333" stroke-width="0.3" text-anchor="middle" font-family="Liberation Sans">IA</text><circle cx="303" cy="1238.4" r="10.7" fill="#0a45d0" stroke="#7a7a7a" stroke-width="0.7"/><text x="303" y="1241.7" font-size="9.2" fill="#333" stroke="#333" stroke-width="0.3" text-anchor="middle" font-family="Liberation Sans">IL</text><circle cx="342.7" cy="1238.5" r="15.1" fill="#b71c26" stroke="#7a7a7a" stroke-width="0.7"/><text x="342.7" y="1241.8" font-size="9.2" fill="#333" stroke="#333" stroke-width="0.3" text-anchor="middle" font-family="Liberation Sans">IN</text><circle cx="376.5" cy="1227" r="19.2" fill="#b71c26" stroke="#7a7a7a" stroke-width="0.7"/><text x="376.5" y="1230.3" font-size="9.2" fill="#333" stroke="#333" stroke-width="0.3" text-anchor="middle" font-family="Liberation Sans">OH</text><circle cx="204" cy="1269.5" r="13.9" fill="#0a45d0" stroke="#7a7a7a" stroke-width="0.7"/><text x="204" y="1272.8" font-size="9.2" fill="#333" stroke="#333" stroke-width="0.3" text-anchor="middle" font-family="Liberation Sans">CO</text><circle cx="235" cy="1268.5" r="11" fill="#b71c26" stroke="#7a7a7a" stroke-width="0.7"/><text x="235" y="1271.8" font-size="9.2" fill="#333" stroke="#333" stroke-width="0.3" text-anchor="middle" font-family="Liberation Sans">KS</text><circle cx="281.3" cy="1270.7" r="14.2" fill="#b71c26" stroke="#7a7a7a" stroke-width="0.7"/><text x="281.3" y="1274.0" font-size="9.2" fill="#333" stroke="#333" stroke-width="0.3" text-anchor="middle" font-family="Liberation Sans">MO</text><circle cx="341.3" cy="1270.7" r="12.8" fill="#b71c26" stroke="#7a7a7a" stroke-width="0.7"/><text x="341.3" y="1274.0" font-size="9.2" fill="#333" stroke="#333" stroke-width="0.3" text-anchor="middle" font-family="Liberation Sans">KY</text><circle cx="370.5" cy="1264" r="10" fill="#b71c26" stroke="#7a7a7a" stroke-width="0.7"/><text x="370.5" y="1267.3" font-size="9.2" fill="#333" stroke="#333" stroke-width="0.3" text-anchor="middle" font-family="Liberation Sans">WV</text><circle cx="166.5" cy="1293.4" r="15" fill="#0b7b5d" stroke="#7a7a7a" stroke-width="0.7"/><text x="166.5" y="1296.7" font-size="9.2" fill="#333" stroke="#333" stroke-width="0.3" text-anchor="middle" font-family="Liberation Sans">AZ</text><circle cx="197.5" cy="1308.9" r="10" fill="#0a45d0" stroke="#7a7a7a" stroke-width="0.7"/><text x="197.5" y="1312.2" font-size="9.2" fill="#333" stroke="#333" stroke-width="0.3" text-anchor="middle" font-family="Liberation Sans">NM</text><circle cx="237.8" cy="1302.2" r="11.8" fill="#b71c26" stroke="#7a7a7a" stroke-width="0.7"/><text x="237.8" y="1305.5" font-size="9.2" fill="#333" stroke="#333" stroke-width="0.3" text-anchor="middle" font-family="Liberation Sans">OK</text><circle cx="278.4" cy="1299.3" r="11" fill="#b71c26" stroke="#7a7a7a" stroke-width="0.7"/><text x="278.4" y="1302.6" font-size="9.2" fill="#333" stroke="#333" stroke-width="0.3" text-anchor="middle" font-family="Liberation Sans">AR</text><circle cx="317.6" cy="1294.3" r="14.6" fill="#b71c26" stroke="#7a7a7a" stroke-width="0.7"/><text x="317.6" y="1297.6" font-size="9.2" fill="#333" stroke="#333" stroke-width="0.3" text-anchor="middle" font-family="Liberation Sans">TN</text><circle cx="364.6" cy="1305" r="18" fill="#b71c26" stroke="#7a7a7a" stroke-width="0.7"/><text x="364.6" y="1308.3" font-size="9.2" fill="#333" stroke="#333" stroke-width="0.3" text-anchor="middle" font-family="Liberation Sans">GA</text><circle cx="405.5" cy="1290.2" r="17.7" fill="#b71c26" stroke="#7a7a7a" stroke-width="0.7"/><text x="405.5" y="1293.5" font-size="9.2" fill="#333" stroke="#333" stroke-width="0.3" text-anchor="middle" font-family="Liberation Sans">NC</text><circle cx="397" cy="1322.6" r="13.7" fill="#b71c26" stroke="#7a7a7a" stroke-width="0.7"/><text x="397" y="1325.9" font-size="9.2" fill="#333" stroke="#333" stroke-width="0.3" text-anchor="middle" font-family="Liberation Sans">SC</text><circle cx="412" cy="1254.7" r="16.4" fill="#0a45d0" stroke="#7a7a7a" stroke-width="0.7"/><text x="412" y="1258.0" font-size="9.2" fill="#333" stroke="#333" stroke-width="0.3" text-anchor="middle" font-family="Liberation Sans">VA</text><circle cx="409.9" cy="1222.7" r="14.3" fill="#0a45d0" stroke="#7a7a7a" stroke-width="0.7"/><text x="409.9" y="1226.0" font-size="9.2" fill="#333" stroke="#333" stroke-width="0.3" text-anchor="middle" font-family="Liberation Sans">MD</text><circle cx="447.8" cy="1221.2" r="7.9" fill="#0a45d0" stroke="#7a7a7a" stroke-width="0.7"/><text x="447.8" y="1224.5" font-size="9.2" fill="#333" stroke="#333" stroke-width="0.3" text-anchor="middle" font-family="Liberation Sans">DE</text><circle cx="443.4" cy="1194.5" r="17" fill="#0a45d0" stroke="#7a7a7a" stroke-width="0.7"/><text x="443.4" y="1197.8" font-size="9.2" fill="#333" stroke="#333" stroke-width="0.3" text-anchor="middle" font-family="Liberation Sans">NJ</text><circle cx="405" cy="1184" r="20.4" fill="#b71c26" stroke="#7a7a7a" stroke-width="0.7"/><text x="405" y="1187.3" font-size="9.2" fill="#333" stroke="#333" stroke-width="0.3" text-anchor="middle" font-family="Liberation Sans">PA</text><circle cx="441.5" cy="1146" r="24.6" fill="#0a45d0" stroke="#7a7a7a" stroke-width="0.7"/><text x="441.5" y="1149.3" font-size="9.2" fill="#333" stroke="#333" stroke-width="0.3" text-anchor="middle" font-family="Liberation Sans">NY</text><circle cx="484.2" cy="1152.3" r="15.2" fill="#0a45d0" stroke="#7a7a7a" stroke-width="0.7"/><text x="484.2" y="1155.6" font-size="9.2" fill="#333" stroke="#333" stroke-width="0.3" text-anchor="middle" font-family="Liberation Sans">MA</text><circle cx="469" cy="1180.7" r="11.8" fill="#0a45d0" stroke="#7a7a7a" stroke-width="0.7"/><text x="469" y="1184.0" font-size="9.2" fill="#333" stroke="#333" stroke-width="0.3" text-anchor="middle" font-family="Liberation Sans">CT</text><circle cx="493.2" cy="1179.3" r="9" fill="#0a45d0" stroke="#7a7a7a" stroke-width="0.7"/><text x="493.2" y="1182.6" font-size="9.2" fill="#333" stroke="#333" stroke-width="0.3" text-anchor="middle" font-family="Liberation Sans">RI</text><circle cx="468.5" cy="1121.5" r="8" fill="#0a45d0" stroke="#7a7a7a" stroke-width="0.7"/><text x="468.5" y="1124.8" font-size="9.2" fill="#333" stroke="#333" stroke-width="0.3" text-anchor="middle" font-family="Liberation Sans">VT</text><circle cx="488" cy="1126.7" r="9" fill="#0a45d0" stroke="#7a7a7a" stroke-width="0.7"/><text x="488" y="1130.0" font-size="9.2" fill="#333" stroke="#333" stroke-width="0.3" text-anchor="middle" font-family="Liberation Sans">NH</text><circle cx="499.8" cy="1106.3" r="9" fill="#0b7b5d" stroke="#7a7a7a" stroke-width="0.7"/><text x="499.8" y="1109.6" font-size="9.2" fill="#333" stroke="#333" stroke-width="0.3" text-anchor="middle" font-family="Liberation Sans">ME</text><circle cx="238.8" cy="1346.8" r="28.3" fill="#b71c26" stroke="#7a7a7a" stroke-width="0.7"/><text x="238.8" y="1350.1" font-size="9.2" fill="#333" stroke="#333" stroke-width="0.3" text-anchor="middle" font-family="Liberation Sans">TX</text><circle cx="278.9" cy="1332" r="12.5" fill="#b71c26" stroke="#7a7a7a" stroke-width="0.7"/><text x="278.9" y="1335.3" font-size="9.2" fill="#333" stroke="#333" stroke-width="0.3" text-anchor="middle" font-family="Liberation Sans">LA</text><circle cx="314" cy="1324" r="11" fill="#b71c26" stroke="#7a7a7a" stroke-width="0.7"/><text x="314" y="1327.3" font-size="9.2" fill="#333" stroke="#333" stroke-width="0.3" text-anchor="middle" font-family="Liberation Sans">MS</text><circle cx="342.8" cy="1329.7" r="13.4" fill="#b71c26" stroke="#7a7a7a" stroke-width="0.7"/><text x="342.8" y="1333.0" font-size="9.2" fill="#333" stroke="#333" stroke-width="0.3" text-anchor="middle" font-family="Liberation Sans">AL</text><circle cx="394" cy="1364.7" r="24.4" fill="#b71c26" stroke="#7a7a7a" stroke-width="0.7"/><text x="394" y="1368.0" font-size="9.2" fill="#333" stroke="#333" stroke-width="0.3" text-anchor="middle" font-family="Liberation Sans">FL</text><circle cx="113.6" cy="1359" r="8" fill="#b71c26" stroke="#7a7a7a" stroke-width="0.7"/><text x="113.6" y="1362.3" font-size="9.2" fill="#333" stroke="#333" stroke-width="0.3" text-anchor="middle" font-family="Liberation Sans">AK</text><circle cx="178.1" cy="1359" r="9" fill="#0a45d0" stroke="#7a7a7a" stroke-width="0.7"/><text x="178.1" y="1362.3" font-size="9.2" fill="#333" stroke="#333" stroke-width="0.3" text-anchor="middle" font-family="Liberation Sans">HI</text></svg>
<div class="r" style="left:120.4px;top:1412.3px;width:7.5px;height:7.5px;background:#8c8c8c;"></div>
<div class="t" style="left:131.70000000000002px;top:1411.62px;font-size:7.6px;line-height:9.5px;color:#444;font-weight:normal;">Noch nicht ausgezählt</div>
<div class="r" style="left:215px;top:1412.3px;width:7.5px;height:7.5px;background:#0b7b5d;"></div>
<div class="t" style="left:226.3px;top:1411.62px;font-size:7.6px;line-height:9.5px;color:#444;font-weight:normal;">Auszählung läuft</div>
<div class="r" style="left:291.4px;top:1412.3px;width:7.5px;height:7.5px;background:#f0c400;"></div>
<div class="t" style="left:302.7px;top:1411.62px;font-size:7.6px;line-height:9.5px;color:#444;font-weight:normal;">Kopf-an-Kopf</div>
<div class="r" style="left:355px;top:1412.3px;width:7.5px;height:7.5px;background:#0b44c8;"></div>
<div class="t" style="left:366.3px;top:1411.62px;font-size:7.6px;line-height:9.5px;color:#444;font-weight:normal;">Kamala Harris</div>
<div class="r" style="left:421px;top:1412.3px;width:7.5px;height:7.5px;background:#b51c27;"></div>
<div class="t" style="left:432.3px;top:1411.62px;font-size:7.6px;line-height:9.5px;color:#444;font-weight:normal;">Donald Trump</div>
<div class="r" style="left:47.4px;top:1426.5px;width:505px;height:0.7px;background:#e6e6e6;"></div>
<div class="t" style="left:47.4px;top:1432.41px;font-size:6.4px;line-height:8.0px;color:#444;font-weight:normal;">Quelle: NEP/Edison via Reuters</div>
<div class="t" style="left:131.5px;top:1477.78px;font-size:12.4px;line-height:15.5px;color:#1f64a6;font-weight:normal;">Umfragen zu Gründen des Wahlergebnisses</div>
<div class="t p" style="left:131.5px;top:1499.61px;font-size:9.65px;line-height:12.8px;color:#333;font-weight:normal;">In Befragungen vor und nach der Wahl haben US-Forschungsinstitute die<br>Gründe für das Abschneiden von Donald Trump und Kamala Harris<br>untersucht und auch nach den Gründen für die Wahlentscheidung und die<br>Stimmung im Land gefragt. Die Ergebnisse liefern wichtige Anhaltspunkte zu<br>den Ursachen des Ergebnisses und zum Wahlverhalten der verschiedenen<br>Bevölkerungsgruppen.</div>
<div class="r" style="left:47.4px;top:1600.7px;width:505px;height:284.3px;background:#efefef;"></div>
<div class="t" style="left:67.1px;top:1614.25px;font-size:9.7px;line-height:12.12px;color:#222;font-weight:bold;">US-Wahl 2024</div>
<div class="t" style="left:67.1px;top:1632.08px;font-size:15.6px;line-height:19.5px;color:#333;font-weight:normal;">Wahlverhalten in Bevölkerungsgruppen</div>
<svg width="600" height="3666" style="left:0;top:0">
<g transform="translate(214.6,1658.8)">
<rect width="58.9" height="68.8" fill="#0e0e0e"/>
<path d="M30,2 C46,2 54,14 55,30 C56,42 58,50 57,58 C50,60 44,56 42,52 L18,52 C14,56 8,60 3,58 C2,48 4,40 5,30 C6,14 14,2 30,2Z" fill="#5e3e2a"/>
<path d="M18,22 C18,12 24,9 31,9 C40,9 45,14 45,24 L45,36 C44,44 38,48 31,48 C24,48 18,44 17,36Z" fill="#c08a68"/>
<path d="M16,28 C15,14 24,7 36,8 C28,11 22,18 20,30Z" fill="#4a2e20"/>
<rect x="23" y="44" width="16" height="25" fill="#a87458"/>
<path d="M0,68.8 L0,58 C6,54 14,52 20,53 C24,60 36,60 42,53 C48,52 54,54 58.9,58 L58.9,68.8Z" fill="#3a3a40"/>
<path d="M22,56 C26,62 36,62 40,56" stroke="#222" stroke-width="1.4" fill="none"/>
<ellipse cx="25" cy="29" rx="2.2" ry="1" fill="#3a2a22"/><ellipse cx="37" cy="29" rx="2.2" ry="1" fill="#3a2a22"/>
<path d="M26,39 C29,41 34,41 37,39 C34,38 29,38 26,39Z" fill="#f0e0d8"/>
</g>
<g transform="translate(326.2,1658.8)">
<rect width="58.9" height="68.8" fill="#0c0c0e"/>
<path d="M0,68.8 L0,56 C6,52 14,50 20,49 L40,49 C46,50 53,52 58.9,55 L58.9,68.8Z" fill="#1f2c6a"/>
<path d="M20,49 L30,68.8 L42,49 C38,54 34,55 30,55 C26,55 22,54 20,49Z" fill="#eeeef0"/>
<path d="M27,60 L35,60 L36,68.8 L26,68.8Z" fill="#c01e2a"/>
<path d="M12,24 C12,18 18,15 30,15 C42,15 49,18 49,26 L48,38 C47,48 40,54 30,54 C21,54 14,48 13,38Z" fill="#d08a60"/>
<path d="M10,32 C8,12 18,2 31,2 C44,2 53,10 52,26 L49,32 C48,22 42,17 30,17 C20,17 14,22 12,32Z" fill="#bcae92"/>
<ellipse cx="23" cy="28" rx="2.4" ry="1" fill="#4a3028"/><ellipse cx="38" cy="28" rx="2.4" ry="1" fill="#4a3028"/>
<path d="M24,42 L37,42" stroke="#9a5a48" stroke-width="1.2"/>
</g>
</svg>
<div class="t" style="right:326.5px;text-align:right;top:1734.61px;font-size:7px;line-height:8.75px;color:#444;font-weight:normal;">Harris</div>
<div class="t" style="left:326px;top:1734.61px;font-size:7px;line-height:8.75px;color:#444;font-weight:normal;">Trump</div>
<div class="r" style="left:159.862px;top:1749.95px;width:86.838px;height:30.5px;background:#063a8c;"></div>
<div class="r" style="left:353.3px;top:1749.95px;width:120.09900000000002px;height:30.5px;background:#9c0b28;"></div>
<div class="t" style="left:-37.39999999999998px;width:600px;text-align:center;top:1760.78px;font-size:9.8px;line-height:12.25px;color:#222;font-weight:bold;">41</div>
<div class="t" style="left:0px;width:600px;text-align:center;top:1761.12px;font-size:7.6px;line-height:9.5px;color:#333;font-weight:normal;">Weiße</div>
<div class="t" style="left:37px;width:600px;text-align:center;top:1760.78px;font-size:9.8px;line-height:12.25px;color:#222;font-weight:bold;">57</div>
<div class="r" style="left:66.66999999999999px;top:1784.75px;width:180.03px;height:30.5px;background:#063a8c;"></div>
<div class="r" style="left:353.3px;top:1784.75px;width:27.391000000000002px;height:30.5px;background:#9c0b28;"></div>
<div class="t" style="left:-37.39999999999998px;width:600px;text-align:center;top:1795.58px;font-size:9.8px;line-height:12.25px;color:#222;font-weight:bold;">85</div>
<div class="t" style="left:0px;width:600px;text-align:center;top:1795.92px;font-size:7.6px;line-height:9.5px;color:#333;font-weight:normal;">Schwarze</div>
<div class="t" style="left:37px;width:600px;text-align:center;top:1795.58px;font-size:9.8px;line-height:12.25px;color:#222;font-weight:bold;">13</div>
<div class="r" style="left:136.564px;top:1819.55px;width:110.136px;height:30.5px;background:#063a8c;"></div>
<div class="r" style="left:353.3px;top:1819.55px;width:96.92200000000001px;height:30.5px;background:#9c0b28;"></div>
<div class="t" style="left:-37.39999999999998px;width:600px;text-align:center;top:1830.38px;font-size:9.8px;line-height:12.25px;color:#222;font-weight:bold;">52</div>
<div class="t" style="left:0px;width:600px;text-align:center;top:1830.72px;font-size:7.6px;line-height:9.5px;color:#333;font-weight:normal;">Hispanics</div>
<div class="t" style="left:37px;width:600px;text-align:center;top:1830.38px;font-size:9.8px;line-height:12.25px;color:#222;font-weight:bold;">46</div>
<div class="t" style="left:66.8px;top:1864.71px;font-size:6.4px;line-height:8.0px;color:#2a4f86;font-weight:bold;">infratest dimap</div>
<svg width="600" height="3666" style="left:0;top:0"><circle cx="121.7" cy="1868.3" r="4.6" fill="none" stroke="#a8b0b8" stroke-width="1.8"/><rect x="116.5" y="1862.3" width="3" height="3" fill="#2a4f86"/><rect x="513" y="1859.0" width="19.5" height="19" rx="2" fill="url(#lg)"/><circle cx="522.8" cy="1868.5" r="7.2" fill="url(#lg2)"/><circle cx="522.8" cy="1868.5" r="4.2" fill="none" stroke="#fff" stroke-width="0.8"/><path d="M521.5,1867.1 L523.8,1865.8999999999999 L523.8,1870.8999999999999 L522.6,1870.8999999999999 L522.6,1867.7Z" fill="#fff"/></svg>
<div class="t" style="left:266px;top:1864.84px;font-size:6.2px;line-height:7.75px;color:#444;font-weight:normal;">Stand:&nbsp; 06.11.2024, 20:52 Uhr</div>
<div class="t" style="left:131.5px;width:600px;text-align:center;top:1864.81px;font-size:6.25px;line-height:7.81px;color:#444;font-weight:normal;">Quelle: NEP/Edison via Reuters</div>
<svg width="600" height="3666" style="left:0;top:0"><circle cx="299.5" cy="1897.5" r="4.3" fill="#1660b0"/><circle cx="312.8" cy="1897.5" r="2.9" fill="#888"/><circle cx="325.6" cy="1897.5" r="1.5" fill="#888"/><circle cx="299.5" cy="2220" r="4.3" fill="#1660b0"/><circle cx="312.8" cy="2220" r="2.9" fill="#888"/><circle cx="325.6" cy="2220" r="1.5" fill="#888"/></svg>
<div class="r" style="left:47.4px;top:1923.5px;width:505px;height:283.5px;background:#efefef;"></div>
<div class="t" style="left:67.1px;top:1934.85px;font-size:9.7px;line-height:12.12px;color:#222;font-weight:bold;">US-Wahl 2024</div>
<div class="t" style="left:67.1px;top:1953.31px;font-size:15.4px;line-height:19.25px;color:#333;font-weight:normal;">Wahlentscheidung erfolgte vor allem aus...</div>
<div class="t" style="left:72px;top:2000.50px;font-size:9px;line-height:11.25px;color:#333;font-weight:normal;">Überzeugung von meinem Kandidaten</div>
<div class="t" style="left:72px;top:2098.70px;font-size:9px;line-height:11.25px;color:#333;font-weight:normal;">Ablehnung des anderen Kandidaten</div>
<div class="t" style="left:72px;top:2025.19px;font-size:7.8px;line-height:9.75px;color:#333;font-weight:normal;">Harris-Wähler</div>
<div class="t" style="left:-156.8px;width:600px;text-align:center;top:2024.01px;font-size:9.6px;line-height:12.0px;color:#222;font-weight:bold;">67</div>
<div class="r" style="left:159.3px;top:2014px;width:313.024px;height:30px;background:#063a8c;"></div>
<div class="t" style="left:72px;top:2058.19px;font-size:7.8px;line-height:9.75px;color:#333;font-weight:normal;">Trump-Wähler</div>
<div class="t" style="left:-156.8px;width:600px;text-align:center;top:2057.01px;font-size:9.6px;line-height:12.0px;color:#222;font-weight:bold;">80</div>
<div class="r" style="left:159.3px;top:2047px;width:373.76px;height:30px;background:#9c0b28;"></div>
<div class="t" style="left:72px;top:2123.49px;font-size:7.8px;line-height:9.75px;color:#333;font-weight:normal;">Harris-Wähler</div>
<div class="t" style="left:-156.8px;width:600px;text-align:center;top:2122.31px;font-size:9.6px;line-height:12.0px;color:#222;font-weight:bold;">30</div>
<div class="r" style="left:159.3px;top:2112.3px;width:140.16px;height:30px;background:#063a8c;"></div>
<div class="t" style="left:72px;top:2156.59px;font-size:7.8px;line-height:9.75px;color:#333;font-weight:normal;">Trump-Wähler</div>
<div class="t" style="left:-156.8px;width:600px;text-align:center;top:2155.41px;font-size:9.6px;line-height:12.0px;color:#222;font-weight:bold;">18</div>
<div class="r" style="left:159.3px;top:2145.4px;width:84.09599999999999px;height:30px;background:#9c0b28;"></div>
<div class="t" style="left:66.8px;top:2187.41px;font-size:6.4px;line-height:8.0px;color:#2a4f86;font-weight:bold;">infratest dimap</div>
<svg width="600" height="3666" style="left:0;top:0"><circle cx="121.7" cy="2191" r="4.6" fill="none" stroke="#a8b0b8" stroke-width="1.8"/><rect x="116.5" y="2185" width="3" height="3" fill="#2a4f86"/><rect x="513" y="2181.7" width="19.5" height="19" rx="2" fill="url(#lg)"/><circle cx="522.8" cy="2191.2" r="7.2" fill="url(#lg2)"/><circle cx="522.8" cy="2191.2" r="4.2" fill="none" stroke="#fff" stroke-width="0.8"/><path d="M521.5,2189.8 L523.8,2188.6 L523.8,2193.6 L522.6,2193.6 L522.6,2190.4Z" fill="#fff"/></svg>
<div class="t" style="left:266px;top:2187.54px;font-size:6.2px;line-height:7.75px;color:#444;font-weight:normal;">Stand:&nbsp; 06.11.2024, 20:52 Uhr</div>
<div class="t" style="left:131.5px;width:600px;text-align:center;top:2187.51px;font-size:6.25px;line-height:7.81px;color:#444;font-weight:normal;">Quelle: NEP/Edison via Reuters</div>
<svg width="600" height="3666" style="left:0;top:0"><g transform="translate(47.0,2257.5)"><rect width="81.5" height="81" fill="#efefef"/><rect x="2.5" y="2.6" width="14" height="1.6" fill="#666"/><rect x="2.5" y="6.2" width="30" height="2" fill="#888"/><rect x="34.7" y="27.4" width="44.3" height="5" fill="#9c0b28"/><rect x="2.5" y="29.299999999999997" width="11" height="1.2" fill="#aaa"/><rect x="24.5" y="29.0" width="3.4" height="1.8" fill="#555"/><rect x="29.5" y="29.4" width="2.5" height="1" fill="#aaa"/><rect x="34.7" y="34.0" width="39.2" height="5" fill="#9c0b28"/><rect x="2.5" y="35.9" width="9" height="1.2" fill="#aaa"/><rect x="24.5" y="35.6" width="3.4" height="1.8" fill="#555"/><rect x="29.5" y="36.0" width="2.5" height="1" fill="#aaa"/><rect x="34.7" y="40.8" width="36.9" height="5" fill="#9c0b28"/><rect x="2.5" y="42.699999999999996" width="9" height="1.2" fill="#aaa"/><rect x="24.5" y="42.4" width="3.4" height="1.8" fill="#555"/><rect x="29.5" y="42.8" width="2.5" height="1" fill="#aaa"/><rect x="34.7" y="47.8" width="30.9" height="5" fill="#9c0b28"/><rect x="2.5" y="49.699999999999996" width="16" height="1.2" fill="#aaa"/><rect x="24.5" y="49.4" width="3.4" height="1.8" fill="#555"/><rect x="29.5" y="49.8" width="2.5" height="1" fill="#aaa"/><rect x="34.7" y="54.8" width="28.5" height="5" fill="#9c0b28"/><rect x="2.5" y="56.699999999999996" width="10" height="1.2" fill="#aaa"/><rect x="24.5" y="56.4" width="3.4" height="1.8" fill="#555"/><rect x="29.5" y="56.8" width="2.5" height="1" fill="#aaa"/><rect x="34" y="22.5" width="6" height="1" fill="#aaa"/><rect x="2.5" y="74.5" width="12" height="1.5" fill="#6d8fc0"/><circle cx="17.5" cy="75.2" r="1.6" fill="none" stroke="#aaa" stroke-width="0.6"/><rect x="32" y="73.5" width="17" height="1.2" fill="#bbb"/><rect x="35" y="76" width="11" height="1.2" fill="#bbb"/><rect x="72.5" y="71.5" width="5.5" height="5.5" fill="#1a6fd0"/></g></svg>
<div class="r" style="left:137.5px;top:2263.6px;width:27.3px;height:8.3px;background:#0c4f92;border-radius:1px;"></div>
<div class="t" style="left:-148.85px;width:600px;text-align:center;top:2264.21px;font-size:6.4px;line-height:8.0px;color:#fff;font-weight:bold;">BILDER</div>
<div class="t" style="left:137.5px;top:2276.56px;font-size:8.3px;line-height:10.38px;color:#444;font-weight:normal;">Infografik</div>
<div class="t p" style="left:137.5px;top:2288.89px;font-size:12.1px;line-height:12.9px;color:#1d66ad;font-weight:normal;">Wie die USA auf Trump<br>blicken und wer ihn wählte</div>
<svg width="600" height="3666" style="left:0;top:0"><g transform="translate(310.0,2257.5)"><rect width="81.5" height="81" fill="#efefef"/><rect x="2.5" y="2.6" width="14" height="1.6" fill="#666"/><rect x="2.5" y="6.2" width="30" height="2" fill="#888"/><rect x="12.4" y="13.5" width="16.6" height="19.5" fill="#1c1a18"/><path d="M14,33 L14,24 C14,16 18,15 20.7,15 C24,15 27,17 27,24 L27,33Z" fill="#3a2418"/><ellipse cx="20.7" cy="23" rx="3.8" ry="5" fill="#b98062"/><rect x="12.4" y="30" width="16.6" height="3" fill="#222"/><rect x="51" y="13.5" width="17" height="19.5" fill="#141820"/><ellipse cx="59.5" cy="22" rx="4" ry="5" fill="#d39270"/><path d="M55,19 C55,15 64,15 64,19Z" fill="#d8c8a0"/><rect x="51" y="28" width="17" height="5" fill="#1d2a5a"/><rect x="58.5" y="28" width="2" height="5" fill="#c01e2a"/><rect x="2.1" y="39.3" width="20.599999999999998" height="5" fill="#063a8c"/><rect x="57.2" y="39.3" width="13.4" height="5" fill="#9c0b28"/><rect x="25" y="41.0" width="3" height="1.6" fill="#555"/><rect x="31" y="41.3" width="18" height="1" fill="#aaa"/><rect x="51" y="41.0" width="3" height="1.6" fill="#555"/><rect x="4.2" y="45.3" width="18.5" height="5" fill="#063a8c"/><rect x="57.2" y="45.3" width="17.1" height="5" fill="#9c0b28"/><rect x="25" y="47.0" width="3" height="1.6" fill="#555"/><rect x="31" y="47.3" width="18" height="1" fill="#aaa"/><rect x="51" y="47.0" width="3" height="1.6" fill="#555"/><rect x="6.2" y="51.3" width="16.5" height="5" fill="#063a8c"/><rect x="57.2" y="51.3" width="14.4" height="5" fill="#9c0b28"/><rect x="25" y="53.0" width="3" height="1.6" fill="#555"/><rect x="31" y="53.3" width="18" height="1" fill="#aaa"/><rect x="51" y="53.0" width="3" height="1.6" fill="#555"/><rect x="6.2" y="57.3" width="16.5" height="5" fill="#063a8c"/><rect x="57.2" y="57.3" width="21.6" height="5" fill="#9c0b28"/><rect x="25" y="59.0" width="3" height="1.6" fill="#555"/><rect x="31" y="59.3" width="18" height="1" fill="#aaa"/><rect x="51" y="59.0" width="3" height="1.6" fill="#555"/><rect x="6.2" y="63.3" width="16.5" height="5" fill="#063a8c"/><rect x="57.2" y="63.3" width="20.8" height="5" fill="#9c0b28"/><rect x="25" y="65.0" width="3" height="1.6" fill="#555"/><rect x="31" y="65.3" width="18" height="1" fill="#aaa"/><rect x="51" y="65.0" width="3" height="1.6" fill="#555"/><rect x="2.5" y="74.5" width="12" height="1.5" fill="#6d8fc0"/><circle cx="17.5" cy="75.2" r="1.6" fill="none" stroke="#aaa" stroke-width="0.6"/><rect x="32" y="73.5" width="17" height="1.2" fill="#bbb"/><rect x="35" y="76" width="11" height="1.2" fill="#bbb"/><rect x="72.5" y="71.5" width="5.5" height="5.5" fill="#1a6fd0"/></g></svg>
<div class="r" style="left:400.5px;top:2263.6px;width:27.3px;height:8.3px;background:#0c4f92;border-radius:1px;"></div>
<div class="t" style="left:114.14999999999998px;width:600px;text-align:center;top:2264.21px;font-size:6.4px;line-height:8.0px;color:#fff;font-weight:bold;">BILDER</div>
<div class="t" style="left:400.5px;top:2276.56px;font-size:8.3px;line-height:10.38px;color:#444;font-weight:normal;">Infografik</div>
<div class="t p" style="left:400.5px;top:2288.89px;font-size:12.1px;line-height:12.9px;color:#1d66ad;font-weight:normal;">Wie die USA auf Harris<br>blicken und wer sie wählte</div>
<svg width="600" height="3666" style="left:0;top:0"><g transform="translate(47.0,2350)"><rect width="81.5" height="81" fill="#efefef"/><rect x="2.5" y="2.6" width="14" height="1.6" fill="#666"/><rect x="2.5" y="6.2" width="30" height="2" fill="#888"/><rect x="2.5" y="9.6" width="20" height="2" fill="#888"/><rect x="18.2" y="23.8" width="16.9" height="20" fill="#141820"/><ellipse cx="26.6" cy="32" rx="4.2" ry="5" fill="#d39270"/><path d="M22,29 C22,24 31,24 31,29Z" fill="#d8c8a0"/><rect x="18.2" y="38.5" width="16.9" height="5.3" fill="#1d2a5a"/><rect x="26" y="38.5" width="1.6" height="5.3" fill="#c01e2a"/><rect x="46" y="23.8" width="17" height="20" fill="#2a2a2a"/><path d="M48,43.8 L48,33 C48,26 51,25.5 54.5,25.5 C58,25.5 61,27 61,33 L61,43.8Z" fill="#3a2418"/><ellipse cx="54.5" cy="33" rx="3.8" ry="5" fill="#b98062"/><rect x="2.5" y="50.0" width="26.5" height="6" fill="#2c4252"/><rect x="52" y="50.0" width="26.4" height="6" fill="#c9c9c9"/><rect x="31" y="52.2" width="3" height="1.6" fill="#555"/><rect x="37" y="52.5" width="6" height="1" fill="#aaa"/><rect x="46" y="52.2" width="3" height="1.6" fill="#555"/><rect x="2.5" y="56.7" width="26.5" height="6" fill="#2c4252"/><rect x="52" y="56.7" width="26.4" height="6" fill="#c9c9c9"/><rect x="31" y="58.900000000000006" width="3" height="1.6" fill="#555"/><rect x="37" y="59.2" width="6" height="1" fill="#aaa"/><rect x="46" y="58.900000000000006" width="3" height="1.6" fill="#555"/><rect x="18" y="46.5" width="5" height="1" fill="#aaa"/><rect x="50" y="46.5" width="8" height="1" fill="#aaa"/><rect x="2.5" y="74.5" width="12" height="1.5" fill="#6d8fc0"/><circle cx="17.5" cy="75.2" r="1.6" fill="none" stroke="#aaa" stroke-width="0.6"/><rect x="32" y="73.5" width="17" height="1.2" fill="#bbb"/><rect x="35" y="76" width="11" height="1.2" fill="#bbb"/><rect x="72.5" y="71.5" width="5.5" height="5.5" fill="#1a6fd0"/></g></svg>
<div class="r" style="left:137.5px;top:2356.1px;width:27.3px;height:8.3px;background:#0c4f92;border-radius:1px;"></div>
<div class="t" style="left:-148.85px;width:600px;text-align:center;top:2356.71px;font-size:6.4px;line-height:8.0px;color:#fff;font-weight:bold;">BILDER</div>
<div class="t" style="left:137.5px;top:2369.06px;font-size:8.3px;line-height:10.38px;color:#444;font-weight:normal;">Infografik</div>
<div class="t p" style="left:137.5px;top:2381.39px;font-size:12.1px;line-height:12.9px;color:#1d66ad;font-weight:normal;">Wie Trump und Harris im<br>Vergleich bewertet werden</div>
<svg width="600" height="3666" style="left:0;top:0"><g transform="translate(310.0,2350)"><rect width="81.5" height="81" fill="#efefef"/><rect x="2.5" y="2.6" width="14" height="1.6" fill="#666"/><rect x="2.5" y="6.2" width="30" height="2" fill="#888"/><rect x="2.5" y="9.6" width="30" height="2" fill="#888"/><rect x="2.5" y="13.2" width="20" height="2" fill="#888"/><rect x="9" y="27.5" width="12" height="1" fill="#aaa"/><rect x="60" y="27.5" width="13" height="1" fill="#aaa"/><rect x="17.8" y="32.2" width="2.6999999999999993" height="6" fill="#2c4252"/><rect x="59.7" y="32.2" width="18.7" height="6" fill="#c9c9c9"/><rect x="23" y="34.400000000000006" width="3" height="1.6" fill="#555"/><rect x="31" y="34.7" width="17" height="1" fill="#aaa"/><rect x="53" y="34.400000000000006" width="3" height="1.6" fill="#555"/><rect x="15.3" y="38.8" width="5.199999999999999" height="6" fill="#2c4252"/><rect x="59.7" y="38.8" width="18.3" height="6" fill="#c9c9c9"/><rect x="23" y="41.0" width="3" height="1.6" fill="#555"/><rect x="31" y="41.3" width="17" height="1" fill="#aaa"/><rect x="53" y="41.0" width="3" height="1.6" fill="#555"/><rect x="16.8" y="45.6" width="3.6999999999999993" height="6" fill="#2c4252"/><rect x="59.7" y="45.6" width="17.3" height="6" fill="#c9c9c9"/><rect x="23" y="47.800000000000004" width="3" height="1.6" fill="#555"/><rect x="31" y="48.1" width="17" height="1" fill="#aaa"/><rect x="53" y="47.800000000000004" width="3" height="1.6" fill="#555"/><rect x="13.3" y="52.4" width="7.199999999999999" height="6" fill="#2c4252"/><rect x="59.7" y="52.4" width="15.6" height="6" fill="#c9c9c9"/><rect x="23" y="54.6" width="3" height="1.6" fill="#555"/><rect x="31" y="54.9" width="17" height="1" fill="#aaa"/><rect x="53" y="54.6" width="3" height="1.6" fill="#555"/><rect x="15.3" y="59" width="5.199999999999999" height="6" fill="#2c4252"/><rect x="59.7" y="59" width="14.2" height="6" fill="#c9c9c9"/><rect x="23" y="61.2" width="3" height="1.6" fill="#555"/><rect x="31" y="61.5" width="17" height="1" fill="#aaa"/><rect x="53" y="61.2" width="3" height="1.6" fill="#555"/><rect x="2.5" y="74.5" width="12" height="1.5" fill="#6d8fc0"/><circle cx="17.5" cy="75.2" r="1.6" fill="none" stroke="#aaa" stroke-width="0.6"/><rect x="32" y="73.5" width="17" height="1.2" fill="#bbb"/><rect x="35" y="76" width="11" height="1.2" fill="#bbb"/><rect x="72.5" y="71.5" width="5.5" height="5.5" fill="#1a6fd0"/></g></svg>
<div class="r" style="left:400.5px;top:2356.1px;width:27.3px;height:8.3px;background:#0c4f92;border-radius:1px;"></div>
<div class="t" style="left:114.14999999999998px;width:600px;text-align:center;top:2356.71px;font-size:6.4px;line-height:8.0px;color:#fff;font-weight:bold;">BILDER</div>
<div class="t" style="left:400.5px;top:2369.06px;font-size:8.3px;line-height:10.38px;color:#444;font-weight:normal;">Infografik</div>
<div class="t p" style="left:400.5px;top:2381.39px;font-size:12.1px;line-height:12.9px;color:#1d66ad;font-weight:normal;">Was die USA bewegt und<br>die Stimmung prägt</div>
<div class="t" style="left:0px;width:600px;text-align:center;top:2471.51px;font-size:18px;line-height:22.5px;color:#1f64a6;font-weight:normal;">WAHL DES REPRÄSENTANTENHAUSES</div>
<svg width="600" height="3666" style="left:0;top:0"><path d="M148.40,2505.90 A63.5,63.5 0 0 1 157.99,2632.17 L154.29,2607.95 A39,39 0 0 0 148.40,2530.40Z" fill="#dc1f26"/><path d="M157.99,2632.17 A63.5,63.5 0 0 1 122.15,2627.22 L132.28,2604.91 A39,39 0 0 0 154.29,2607.95Z" fill="#e3e3e3"/><path d="M122.15,2627.22 A63.5,63.5 0 0 1 148.40,2505.90 L148.40,2530.40 A39,39 0 0 0 132.28,2604.91Z" fill="#0b45cc"/><line x1="148.4" y1="2608.4" x2="148.4" y2="2632.9" stroke="#333" stroke-width="0.8" stroke-dasharray="1.2,1.2"/><circle cx="299.8" cy="2549.4" r="23.7" fill="none" stroke="#0044c9" stroke-width="7"/><path d="M291,2538.7 L300.5,2538.7 C309,2538.7 312.3,2544 312.3,2549.8 C312.3,2556 309,2561 300.5,2561 L291,2561Z M296.5,2543.5 L296.5,2556.2 L300,2556.2 C304.5,2556.2 306.5,2553.5 306.5,2549.8 C306.5,2546 304.5,2543.5 300,2543.5Z" fill="#0044c9" fill-rule="evenodd"/><rect x="452.2" y="2526.8" width="100" height="45.2" fill="#e0102a"/><circle cx="538.3" cy="2556.5" r="3.6" fill="#fff"/><path d="M536.3,2557.8 C536.3,2555 537.2,2554.6 538.5,2554.6 C539.8,2554.6 540.4,2555.5 540.4,2557.8 Z" fill="#e0102a"/><path d="M390.2,2535.5 C390.2,2528 395,2524.8 400.5,2524.8 C406.5,2524.8 410.8,2528.5 410.8,2534 C410.8,2540.5 404.2,2542 401.8,2547 L401.5,2554" stroke="#c9c9c9" stroke-width="6.4" fill="none"/><rect x="397.8" y="2561.2" width="7.2" height="7.4" fill="#c9c9c9"/><line x1="251" y1="2583.5" x2="552.2" y2="2583.5" stroke="#e4e4e4" stroke-width="0.8"/><line x1="251" y1="2611.2" x2="552.2" y2="2611.2" stroke="#e4e4e4" stroke-width="0.8"/><line x1="47.4" y1="2659.2" x2="552.2" y2="2659.2" stroke="#e8e8e8" stroke-width="0.8"/></svg>
<div class="t" style="left:-151.6px;width:600px;text-align:center;top:2554.58px;font-size:26.6px;line-height:33.25px;color:#333;font-weight:normal;">435</div>
<div class="t" style="left:-151.6px;width:600px;text-align:center;top:2642.93px;font-size:8.5px;line-height:10.62px;color:#444;font-weight:normal;">Mehrheit</div>
<div class="t" style="left:197.3px;width:600px;text-align:center;top:2529.85px;font-size:30px;line-height:37.5px;color:#fff;font-weight:bold;">GOP</div>
<div class="t" style="left:0px;width:600px;text-align:center;top:2586.49px;font-size:19.1px;line-height:23.88px;color:#333;font-weight:normal;">188</div>
<div class="t" style="left:0px;width:600px;text-align:center;top:2616.49px;font-size:8.26px;line-height:10.32px;color:#444;font-weight:normal;">Demokraten</div>
<div class="t" style="left:101px;width:600px;text-align:center;top:2586.49px;font-size:19.1px;line-height:23.88px;color:#333;font-weight:normal;">40</div>
<div class="t" style="left:101px;width:600px;text-align:center;top:2616.49px;font-size:8.26px;line-height:10.32px;color:#444;font-weight:normal;">Offen</div>
<div class="t" style="left:201.7px;width:600px;text-align:center;top:2586.49px;font-size:19.1px;line-height:23.88px;color:#333;font-weight:normal;">207</div>
<div class="t" style="left:201.7px;width:600px;text-align:center;top:2616.49px;font-size:8.26px;line-height:10.32px;color:#444;font-weight:normal;">Republikaner</div>
<div class="r" style="left:48.3px;top:2667px;width:25.700000000000003px;height:13.5px;background:#0c4f92;"></div>
<div class="t" style="left:-238.85px;width:600px;text-align:center;top:2669.55px;font-size:7.4px;line-height:9.25px;color:#fff;font-weight:normal;">2024</div>
<div class="r" style="left:77.5px;top:2667px;width:26.299999999999997px;height:13.5px;background:#ececec;"></div>
<div class="t" style="left:-209.35px;width:600px;text-align:center;top:2669.55px;font-size:7.4px;line-height:9.25px;color:#444;font-weight:normal;">2022</div>
<div class="r" style="left:107.3px;top:2667px;width:26.299999999999997px;height:13.5px;background:#ececec;"></div>
<div class="t" style="left:-179.55px;width:600px;text-align:center;top:2669.55px;font-size:7.4px;line-height:9.25px;color:#444;font-weight:normal;">2020</div>
<div class="r" style="left:137.2px;top:2667px;width:26.30000000000001px;height:13.5px;background:#ececec;"></div>
<div class="t" style="left:-149.65px;width:600px;text-align:center;top:2669.55px;font-size:7.4px;line-height:9.25px;color:#444;font-weight:normal;">2018</div>
<div class="r" style="left:167.7px;top:2667px;width:27.0px;height:13.5px;background:#ececec;"></div>
<div class="t" style="left:-118.80000000000001px;width:600px;text-align:center;top:2669.55px;font-size:7.4px;line-height:9.25px;color:#444;font-weight:normal;">2016</div>
<div class="t" style="right:47.60000000000002px;text-align:right;top:2669.41px;font-size:6.4px;line-height:8.0px;color:#444;font-weight:normal;">Quelle: NEP/Edison via Reuters</div>
<div class="t" style="left:0px;width:600px;text-align:center;top:2724.57px;font-size:17.3px;line-height:21.62px;color:#1f64a6;font-weight:normal;">WAHL DES SENATS</div>
<div class="t" style="left:131.5px;top:2917.68px;font-size:12.4px;line-height:15.5px;color:#1f64a6;font-weight:normal;">Ergebnisse der Senatswahl in den Bundesstaaten</div>
<div class="t p" style="left:131.5px;top:2939.61px;font-size:9.65px;line-height:12.8px;color:#333;font-weight:normal;">Etwa ein Drittel der 100 Senatssitze wird alle zwei Jahre neu gewählt. Jeder<br>Bundesstaat entsendet zwei Senatorinnen oder Senatoren in diese<br>Kongresskammer. Die Mehrheitsverhältnisse im Senat spielen für die<br>jeweilige Präsidentschaft eine große Rolle bei vielen<br>Gesetzgebungsvorhaben. Wie sehen die Ergebnisse der Wahlen um die<br>Senatssitze 2024 in den Bundesstaaten aus?</div>
<div class="t" style="left:0px;width:600px;text-align:center;top:3196.98px;font-size:18.2px;line-height:22.75px;color:#1f64a6;font-weight:normal;">WAHLEN IM RÜCKBLICK</div>
<svg width="600" height="3666" style="left:0;top:0"><line x1="47" y1="3394.2" x2="552.5" y2="3394.2" stroke="#e6e6e6" stroke-width="0.8"/><line x1="47" y1="3415" x2="552.5" y2="3415" stroke="#e6e6e6" stroke-width="0.8"/><line x1="47" y1="3436" x2="552.5" y2="3436" stroke="#e6e6e6" stroke-width="0.8"/><line x1="47" y1="3456.8" x2="552.5" y2="3456.8" stroke="#e6e6e6" stroke-width="0.8"/><line x1="47" y1="3477" x2="552.5" y2="3477" stroke="#e6e6e6" stroke-width="0.8"/><path d="M539.2,3402.0 L543.8,3406.3999999999996 L548.4,3402.0" stroke="#555" stroke-width="1" fill="none"/><path d="M539.2,3422.6000000000004 L543.8,3427.0 L548.4,3422.6000000000004" stroke="#555" stroke-width="1" fill="none"/><path d="M539.2,3443.5 L543.8,3447.8999999999996 L548.4,3443.5" stroke="#555" stroke-width="1" fill="none"/><path d="M539.2,3463.8 L543.8,3468.2 L548.4,3463.8" stroke="#555" stroke-width="1" fill="none"/><circle cx="542.2" cy="3629.5" r="8.6" fill="none" stroke="#333" stroke-width="2.2"/><path d="M538.5,3626 L543.5,3623.5 L543.5,3635 L540.5,3635 L540.5,3628 L538.5,3629Z" fill="#333"/></svg>
<div class="t" style="left:57.3px;top:3400.30px;font-size:8.1px;line-height:10.12px;color:#222;font-weight:bold;">Service</div>
<div class="t" style="left:57.3px;top:3420.80px;font-size:8.1px;line-height:10.12px;color:#222;font-weight:bold;">tagesschau.de</div>
<div class="t" style="left:57.3px;top:3441.30px;font-size:8.1px;line-height:10.12px;color:#222;font-weight:bold;">ARD Angebote</div>
<div class="t" style="left:57.3px;top:3461.80px;font-size:8.1px;line-height:10.12px;color:#222;font-weight:bold;">Rundfunkanstalten</div>
<div class="t" style="left:58.3px;top:3488.67px;font-size:8.6px;line-height:10.75px;color:#444;font-weight:normal;">Impressum</div>
<div class="t" style="left:58.3px;top:3510.47px;font-size:8.6px;line-height:10.75px;color:#444;font-weight:normal;">So erreichen Sie uns</div>
<div class="t" style="left:58.3px;top:3532.27px;font-size:8.6px;line-height:10.75px;color:#444;font-weight:normal;">Datenschutzerklärung</div>
<div class="t" style="left:58.3px;top:3553.67px;font-size:8.6px;line-height:10.75px;color:#444;font-weight:normal;">Bildrechte</div>
<div class="t" style="left:469px;top:3628.73px;font-size:5.9px;line-height:7.38px;color:#333;font-weight:normal;">Wir sind deins.</div>
<div class="t" style="left:510.2px;top:3624.46px;font-size:10.6px;line-height:13.25px;color:#333;font-weight:bold;">ARD</div>
<div class="t" style="left:47.4px;top:3650.23px;font-size:5.9px;line-height:7.38px;color:#777;font-weight:normal;">© ARD-aktuell / tagesschau.de</div>
</body></html>
